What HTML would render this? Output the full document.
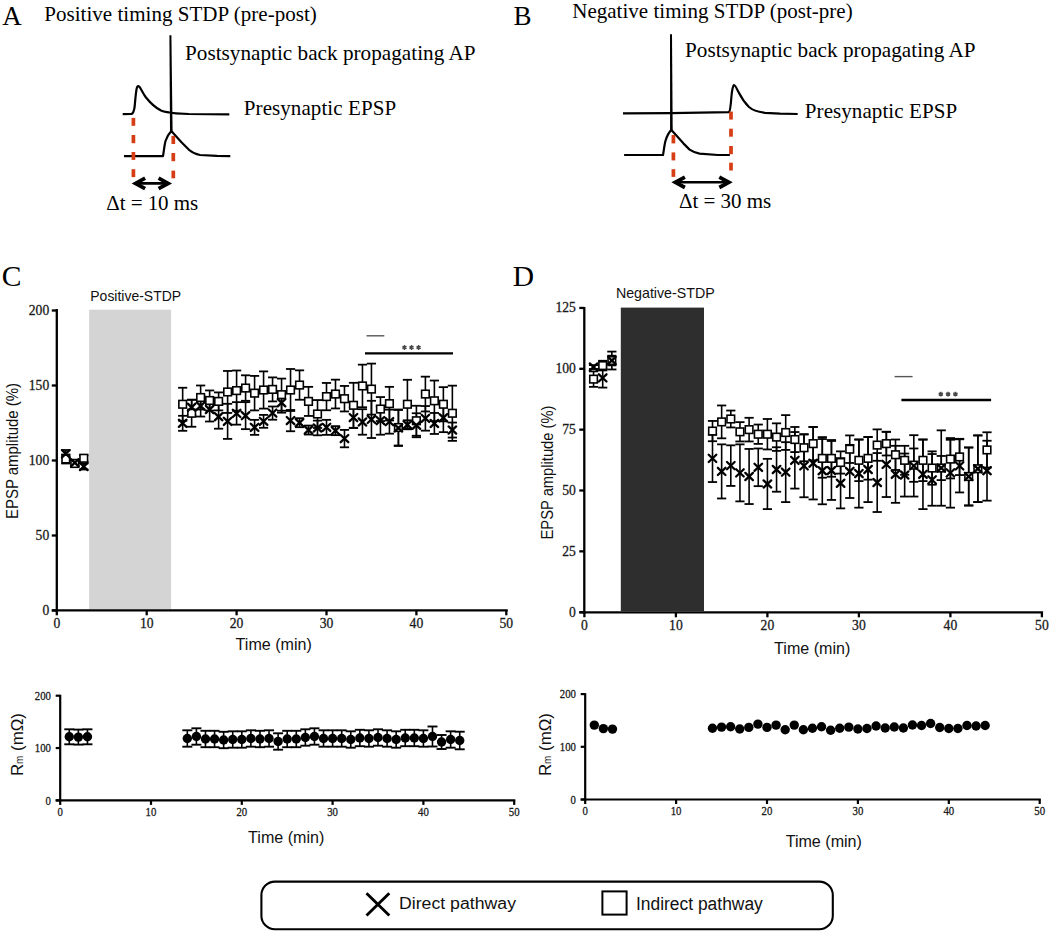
<!DOCTYPE html>
<html><head><meta charset="utf-8"><title>STDP figure</title>
<style>html,body{margin:0;padding:0;background:#fff;} svg{display:block;}</style>
</head><body>
<svg width="1050" height="933" viewBox="0 0 1050 933">
<rect width="1050" height="933" fill="#fff"/>
<text x="2.3" y="25.1" font-family="'Liberation Serif', serif" font-size="27" text-anchor="start" fill="#000" >A</text>
<text x="44.3" y="21.1" font-family="'Liberation Serif', serif" font-size="21" text-anchor="start" fill="#000" textLength="272.5">Positive timing STDP (pre-post)</text>
<text x="185.0" y="59.6" font-family="'Liberation Serif', serif" font-size="21.2" text-anchor="start" fill="#000" textLength="290.5">Postsynaptic back propagating AP</text>
<text x="243.8" y="115.3" font-family="'Liberation Serif', serif" font-size="21" text-anchor="start" fill="#000" textLength="152.3">Presynaptic EPSP</text>
<text x="106.2" y="210.3" font-family="'Liberation Serif', serif" font-size="21" text-anchor="start" fill="#000" textLength="92">&#916;t = 10 ms</text>
<path d="M122.7,114.1 L131.4,113.9 C133.2,113.6 133.9,112 134.6,107 C135.3,100 135.8,92 136.8,88 C137.4,86 138.2,85.8 139.2,86.6 C141,88.5 143,93.5 146,97.5 C150,102.5 155,107.5 161,110.6 C165,112.3 170,112.9 176,113.3 L188.6,114 L229.3,114.3" fill="none" stroke="#000" stroke-width="2.2" stroke-linejoin="round" stroke-linecap="butt"/>
<path d="M169.4,35.2 L171.4,35.2 L172.6,131 L170.0,131 Z" fill="#000"/>
<path d="M124,156.1 L163,156.1 C163.8,152 164.2,146 165.5,141 C166.8,137 169,133.5 171.3,131 L181.7,142.4 L189.2,150 C192,152.5 196,154.3 200,155 L217,155.9 L230.3,156.1" fill="none" stroke="#000" stroke-width="2.2" stroke-linejoin="round" stroke-linecap="butt"/>
<rect x="131.55" y="117.90" width="3.7" height="7.90" fill="#d63d14"/>
<rect x="131.55" y="135.00" width="3.7" height="8.20" fill="#d63d14"/>
<rect x="131.55" y="152.00" width="3.7" height="7.90" fill="#d63d14"/>
<rect x="131.55" y="169.20" width="3.7" height="7.90" fill="#d63d14"/>
<rect x="171.45" y="135.90" width="3.7" height="8.10" fill="#d63d14"/>
<rect x="171.45" y="153.00" width="3.7" height="8.20" fill="#d63d14"/>
<rect x="171.45" y="170.60" width="3.7" height="7.70" fill="#d63d14"/>
<line x1="134.6" y1="183.4" x2="169.1" y2="183.4" stroke="#000" stroke-width="2.6"/>
<path d="M145.1,178.2 L135.6,183.4 L145.1,188.6" fill="none" stroke="#000" stroke-width="3.8" stroke-linejoin="miter" stroke-miterlimit="10"/>
<path d="M158.6,178.2 L168.1,183.4 L158.6,188.6" fill="none" stroke="#000" stroke-width="3.8" stroke-linejoin="miter" stroke-miterlimit="10"/>
<text x="513.4" y="25.1" font-family="'Liberation Serif', serif" font-size="27" text-anchor="start" fill="#000" >B</text>
<text x="572.2" y="17.7" font-family="'Liberation Serif', serif" font-size="21" text-anchor="start" fill="#000" textLength="280.5">Negative timing STDP (post-pre)</text>
<text x="685.0" y="56.8" font-family="'Liberation Serif', serif" font-size="21.2" text-anchor="start" fill="#000" textLength="290.5">Postsynaptic back propagating AP</text>
<text x="804.8" y="118.4" font-family="'Liberation Serif', serif" font-size="21" text-anchor="start" fill="#000" textLength="152.3">Presynaptic EPSP</text>
<text x="679.0" y="207.7" font-family="'Liberation Serif', serif" font-size="21" text-anchor="start" fill="#000" textLength="92.2">&#916;t = 30 ms</text>
<path d="M623,113.3 L671,113.1 L729.1,112.1 C730.2,111 730.8,105 731.4,97 C732,90 732.6,86 734.1,85 C735.2,85 736.5,88 738.5,92 C741.5,98 745,103 749,107 C753,110.5 758,112 765,112.8 L780,113.7 L797.7,114" fill="none" stroke="#000" stroke-width="2.2" stroke-linejoin="round" stroke-linecap="butt"/>
<path d="M670.0,34.2 L672.0,34.2 L672.7,129.9 L670.1,129.9 Z" fill="#000"/>
<path d="M624.1,155 L663,155 C663.8,151 664.2,146 665.3,141.5 C666.5,137 668.8,132.5 671.4,129.9 L683.6,143.6 L689.6,149.6 C692.5,151.5 696,153 699.6,153.6 L717.9,155 L729.9,155" fill="none" stroke="#000" stroke-width="2.2" stroke-linejoin="round" stroke-linecap="butt"/>
<rect x="671.55" y="135.00" width="3.7" height="8.40" fill="#d63d14"/>
<rect x="671.55" y="152.40" width="3.7" height="8.00" fill="#d63d14"/>
<rect x="671.55" y="169.20" width="3.7" height="7.70" fill="#d63d14"/>
<rect x="729.15" y="111.60" width="3.7" height="8.00" fill="#d63d14"/>
<rect x="729.15" y="128.70" width="3.7" height="8.00" fill="#d63d14"/>
<rect x="729.15" y="146.00" width="3.7" height="8.20" fill="#d63d14"/>
<rect x="729.15" y="162.70" width="3.7" height="7.80" fill="#d63d14"/>
<line x1="674.4" y1="182.3" x2="729.8" y2="182.3" stroke="#000" stroke-width="2.6"/>
<path d="M684.9,177.1 L675.4,182.3 L684.9,187.5" fill="none" stroke="#000" stroke-width="3.8" stroke-linejoin="miter" stroke-miterlimit="10"/>
<path d="M719.3,177.1 L728.8,182.3 L719.3,187.5" fill="none" stroke="#000" stroke-width="3.8" stroke-linejoin="miter" stroke-miterlimit="10"/>
<text x="1.8" y="285.6" font-family="'Liberation Serif', serif" font-size="29.5" text-anchor="start" fill="#000" >C</text>
<rect x="89.1" y="309.7" width="82" height="299.5" fill="#d4d4d4"/>
<text x="90.3" y="300.9" font-family="'Liberation Sans', sans-serif" font-size="14.5" text-anchor="start" fill="#111" textLength="90.8" lengthAdjust="spacingAndGlyphs">Positive-STDP</text>
<line x1="56.80" y1="309.05" x2="56.80" y2="611.45" stroke="#000" stroke-width="2.3" stroke-linecap="butt"/>
<line x1="51.80" y1="610.30" x2="507.75" y2="610.30" stroke="#000" stroke-width="2.3" stroke-linecap="butt"/>
<line x1="51.80" y1="610.50" x2="56.80" y2="610.50" stroke="#000" stroke-width="2.3" stroke-linecap="butt"/>
<text x="49.2" y="614.9" font-family="'Liberation Serif', serif" font-size="13.6" text-anchor="end" fill="#1a1a1a" stroke="#1a1a1a" stroke-width="0.3">0</text>
<line x1="51.80" y1="535.50" x2="56.80" y2="535.50" stroke="#000" stroke-width="2.3" stroke-linecap="butt"/>
<text x="49.2" y="539.9" font-family="'Liberation Serif', serif" font-size="13.6" text-anchor="end" fill="#1a1a1a" stroke="#1a1a1a" stroke-width="0.3">50</text>
<line x1="51.80" y1="460.50" x2="56.80" y2="460.50" stroke="#000" stroke-width="2.3" stroke-linecap="butt"/>
<text x="49.2" y="464.9" font-family="'Liberation Serif', serif" font-size="13.6" text-anchor="end" fill="#1a1a1a" stroke="#1a1a1a" stroke-width="0.3">100</text>
<line x1="51.80" y1="385.50" x2="56.80" y2="385.50" stroke="#000" stroke-width="2.3" stroke-linecap="butt"/>
<text x="49.2" y="389.9" font-family="'Liberation Serif', serif" font-size="13.6" text-anchor="end" fill="#1a1a1a" stroke="#1a1a1a" stroke-width="0.3">150</text>
<line x1="51.80" y1="310.50" x2="56.80" y2="310.50" stroke="#000" stroke-width="2.3" stroke-linecap="butt"/>
<text x="49.2" y="314.9" font-family="'Liberation Serif', serif" font-size="13.6" text-anchor="end" fill="#1a1a1a" stroke="#1a1a1a" stroke-width="0.3">200</text>
<line x1="56.80" y1="610.30" x2="56.80" y2="615.30" stroke="#000" stroke-width="2.3" stroke-linecap="butt"/>
<text x="56.8" y="627.9" font-family="'Liberation Serif', serif" font-size="13.6" text-anchor="middle" fill="#1a1a1a" stroke="#1a1a1a" stroke-width="0.3">0</text>
<line x1="146.70" y1="610.30" x2="146.70" y2="615.30" stroke="#000" stroke-width="2.3" stroke-linecap="butt"/>
<text x="146.7" y="627.9" font-family="'Liberation Serif', serif" font-size="13.6" text-anchor="middle" fill="#1a1a1a" stroke="#1a1a1a" stroke-width="0.3">10</text>
<line x1="236.60" y1="610.30" x2="236.60" y2="615.30" stroke="#000" stroke-width="2.3" stroke-linecap="butt"/>
<text x="236.6" y="627.9" font-family="'Liberation Serif', serif" font-size="13.6" text-anchor="middle" fill="#1a1a1a" stroke="#1a1a1a" stroke-width="0.3">20</text>
<line x1="326.50" y1="610.30" x2="326.50" y2="615.30" stroke="#000" stroke-width="2.3" stroke-linecap="butt"/>
<text x="326.5" y="627.9" font-family="'Liberation Serif', serif" font-size="13.6" text-anchor="middle" fill="#1a1a1a" stroke="#1a1a1a" stroke-width="0.3">30</text>
<line x1="416.40" y1="610.30" x2="416.40" y2="615.30" stroke="#000" stroke-width="2.3" stroke-linecap="butt"/>
<text x="416.4" y="627.9" font-family="'Liberation Serif', serif" font-size="13.6" text-anchor="middle" fill="#1a1a1a" stroke="#1a1a1a" stroke-width="0.3">40</text>
<line x1="506.30" y1="610.30" x2="506.30" y2="615.30" stroke="#000" stroke-width="2.3" stroke-linecap="butt"/>
<text x="506.3" y="627.9" font-family="'Liberation Serif', serif" font-size="13.6" text-anchor="middle" fill="#1a1a1a" stroke="#1a1a1a" stroke-width="0.3">50</text>
<text transform="translate(18.3,451.0) rotate(-90)" x="0" y="0" font-family="'Liberation Sans', sans-serif" font-size="16" text-anchor="middle" fill="#111" textLength="136" lengthAdjust="spacingAndGlyphs">EPSP amplitude (%)</text>
<text x="235.6" y="650.0" font-family="'Liberation Sans', sans-serif" font-size="16" text-anchor="start" fill="#111" textLength="76.2" lengthAdjust="spacingAndGlyphs">Time (min)</text>
<line x1="65.79" y1="454.50" x2="65.79" y2="463.50" stroke="#000" stroke-width="1.6" stroke-linecap="butt"/>
<line x1="61.19" y1="454.50" x2="70.39" y2="454.50" stroke="#000" stroke-width="1.8" stroke-linecap="butt"/>
<line x1="61.19" y1="463.50" x2="70.39" y2="463.50" stroke="#000" stroke-width="1.8" stroke-linecap="butt"/>
<line x1="74.78" y1="460.50" x2="74.78" y2="466.50" stroke="#000" stroke-width="1.6" stroke-linecap="butt"/>
<line x1="70.18" y1="460.50" x2="79.38" y2="460.50" stroke="#000" stroke-width="1.8" stroke-linecap="butt"/>
<line x1="70.18" y1="466.50" x2="79.38" y2="466.50" stroke="#000" stroke-width="1.8" stroke-linecap="butt"/>
<line x1="83.77" y1="455.25" x2="83.77" y2="461.25" stroke="#000" stroke-width="1.6" stroke-linecap="butt"/>
<line x1="79.17" y1="455.25" x2="88.37" y2="455.25" stroke="#000" stroke-width="1.8" stroke-linecap="butt"/>
<line x1="79.17" y1="461.25" x2="88.37" y2="461.25" stroke="#000" stroke-width="1.8" stroke-linecap="butt"/>
<line x1="182.66" y1="387.75" x2="182.66" y2="420.75" stroke="#000" stroke-width="1.6" stroke-linecap="butt"/>
<line x1="178.06" y1="387.75" x2="187.26" y2="387.75" stroke="#000" stroke-width="1.8" stroke-linecap="butt"/>
<line x1="178.06" y1="420.75" x2="187.26" y2="420.75" stroke="#000" stroke-width="1.8" stroke-linecap="butt"/>
<line x1="191.65" y1="399.75" x2="191.65" y2="426.75" stroke="#000" stroke-width="1.6" stroke-linecap="butt"/>
<line x1="187.05" y1="399.75" x2="196.25" y2="399.75" stroke="#000" stroke-width="1.8" stroke-linecap="butt"/>
<line x1="187.05" y1="426.75" x2="196.25" y2="426.75" stroke="#000" stroke-width="1.8" stroke-linecap="butt"/>
<line x1="200.64" y1="385.50" x2="200.64" y2="409.50" stroke="#000" stroke-width="1.6" stroke-linecap="butt"/>
<line x1="196.04" y1="385.50" x2="205.24" y2="385.50" stroke="#000" stroke-width="1.8" stroke-linecap="butt"/>
<line x1="196.04" y1="409.50" x2="205.24" y2="409.50" stroke="#000" stroke-width="1.8" stroke-linecap="butt"/>
<line x1="209.63" y1="390.45" x2="209.63" y2="410.55" stroke="#000" stroke-width="1.6" stroke-linecap="butt"/>
<line x1="205.03" y1="390.45" x2="214.23" y2="390.45" stroke="#000" stroke-width="1.8" stroke-linecap="butt"/>
<line x1="205.03" y1="410.55" x2="214.23" y2="410.55" stroke="#000" stroke-width="1.8" stroke-linecap="butt"/>
<line x1="218.62" y1="392.40" x2="218.62" y2="410.40" stroke="#000" stroke-width="1.6" stroke-linecap="butt"/>
<line x1="214.02" y1="392.40" x2="223.22" y2="392.40" stroke="#000" stroke-width="1.8" stroke-linecap="butt"/>
<line x1="214.02" y1="410.40" x2="223.22" y2="410.40" stroke="#000" stroke-width="1.8" stroke-linecap="butt"/>
<line x1="227.61" y1="370.95" x2="227.61" y2="412.95" stroke="#000" stroke-width="1.6" stroke-linecap="butt"/>
<line x1="223.01" y1="370.95" x2="232.21" y2="370.95" stroke="#000" stroke-width="1.8" stroke-linecap="butt"/>
<line x1="223.01" y1="412.95" x2="232.21" y2="412.95" stroke="#000" stroke-width="1.8" stroke-linecap="butt"/>
<line x1="236.60" y1="370.50" x2="236.60" y2="410.70" stroke="#000" stroke-width="1.6" stroke-linecap="butt"/>
<line x1="232.00" y1="370.50" x2="241.20" y2="370.50" stroke="#000" stroke-width="1.8" stroke-linecap="butt"/>
<line x1="232.00" y1="410.70" x2="241.20" y2="410.70" stroke="#000" stroke-width="1.8" stroke-linecap="butt"/>
<line x1="245.59" y1="375.30" x2="245.59" y2="400.80" stroke="#000" stroke-width="1.6" stroke-linecap="butt"/>
<line x1="240.99" y1="375.30" x2="250.19" y2="375.30" stroke="#000" stroke-width="1.8" stroke-linecap="butt"/>
<line x1="240.99" y1="400.80" x2="250.19" y2="400.80" stroke="#000" stroke-width="1.8" stroke-linecap="butt"/>
<line x1="254.58" y1="375.90" x2="254.58" y2="410.40" stroke="#000" stroke-width="1.6" stroke-linecap="butt"/>
<line x1="249.98" y1="375.90" x2="259.18" y2="375.90" stroke="#000" stroke-width="1.8" stroke-linecap="butt"/>
<line x1="249.98" y1="410.40" x2="259.18" y2="410.40" stroke="#000" stroke-width="1.8" stroke-linecap="butt"/>
<line x1="263.57" y1="371.40" x2="263.57" y2="408.60" stroke="#000" stroke-width="1.6" stroke-linecap="butt"/>
<line x1="258.97" y1="371.40" x2="268.17" y2="371.40" stroke="#000" stroke-width="1.8" stroke-linecap="butt"/>
<line x1="258.97" y1="408.60" x2="268.17" y2="408.60" stroke="#000" stroke-width="1.8" stroke-linecap="butt"/>
<line x1="272.56" y1="377.40" x2="272.56" y2="401.40" stroke="#000" stroke-width="1.6" stroke-linecap="butt"/>
<line x1="267.96" y1="377.40" x2="277.16" y2="377.40" stroke="#000" stroke-width="1.8" stroke-linecap="butt"/>
<line x1="267.96" y1="401.40" x2="277.16" y2="401.40" stroke="#000" stroke-width="1.8" stroke-linecap="butt"/>
<line x1="281.55" y1="378.60" x2="281.55" y2="410.70" stroke="#000" stroke-width="1.6" stroke-linecap="butt"/>
<line x1="276.95" y1="378.60" x2="286.15" y2="378.60" stroke="#000" stroke-width="1.8" stroke-linecap="butt"/>
<line x1="276.95" y1="410.70" x2="286.15" y2="410.70" stroke="#000" stroke-width="1.8" stroke-linecap="butt"/>
<line x1="290.54" y1="369.00" x2="290.54" y2="411.00" stroke="#000" stroke-width="1.6" stroke-linecap="butt"/>
<line x1="285.94" y1="369.00" x2="295.14" y2="369.00" stroke="#000" stroke-width="1.8" stroke-linecap="butt"/>
<line x1="285.94" y1="411.00" x2="295.14" y2="411.00" stroke="#000" stroke-width="1.8" stroke-linecap="butt"/>
<line x1="299.53" y1="370.35" x2="299.53" y2="399.75" stroke="#000" stroke-width="1.6" stroke-linecap="butt"/>
<line x1="294.93" y1="370.35" x2="304.13" y2="370.35" stroke="#000" stroke-width="1.8" stroke-linecap="butt"/>
<line x1="294.93" y1="399.75" x2="304.13" y2="399.75" stroke="#000" stroke-width="1.8" stroke-linecap="butt"/>
<line x1="308.52" y1="386.85" x2="308.52" y2="415.95" stroke="#000" stroke-width="1.6" stroke-linecap="butt"/>
<line x1="303.92" y1="386.85" x2="313.12" y2="386.85" stroke="#000" stroke-width="1.8" stroke-linecap="butt"/>
<line x1="303.92" y1="415.95" x2="313.12" y2="415.95" stroke="#000" stroke-width="1.8" stroke-linecap="butt"/>
<line x1="317.51" y1="400.05" x2="317.51" y2="427.95" stroke="#000" stroke-width="1.6" stroke-linecap="butt"/>
<line x1="312.91" y1="400.05" x2="322.11" y2="400.05" stroke="#000" stroke-width="1.8" stroke-linecap="butt"/>
<line x1="312.91" y1="427.95" x2="322.11" y2="427.95" stroke="#000" stroke-width="1.8" stroke-linecap="butt"/>
<line x1="326.50" y1="382.95" x2="326.50" y2="410.25" stroke="#000" stroke-width="1.6" stroke-linecap="butt"/>
<line x1="321.90" y1="382.95" x2="331.10" y2="382.95" stroke="#000" stroke-width="1.8" stroke-linecap="butt"/>
<line x1="321.90" y1="410.25" x2="331.10" y2="410.25" stroke="#000" stroke-width="1.8" stroke-linecap="butt"/>
<line x1="335.49" y1="379.65" x2="335.49" y2="408.45" stroke="#000" stroke-width="1.6" stroke-linecap="butt"/>
<line x1="330.89" y1="379.65" x2="340.09" y2="379.65" stroke="#000" stroke-width="1.8" stroke-linecap="butt"/>
<line x1="330.89" y1="408.45" x2="340.09" y2="408.45" stroke="#000" stroke-width="1.8" stroke-linecap="butt"/>
<line x1="344.48" y1="385.95" x2="344.48" y2="411.45" stroke="#000" stroke-width="1.6" stroke-linecap="butt"/>
<line x1="339.88" y1="385.95" x2="349.08" y2="385.95" stroke="#000" stroke-width="1.8" stroke-linecap="butt"/>
<line x1="339.88" y1="411.45" x2="349.08" y2="411.45" stroke="#000" stroke-width="1.8" stroke-linecap="butt"/>
<line x1="353.47" y1="382.80" x2="353.47" y2="427.80" stroke="#000" stroke-width="1.6" stroke-linecap="butt"/>
<line x1="348.87" y1="382.80" x2="358.07" y2="382.80" stroke="#000" stroke-width="1.8" stroke-linecap="butt"/>
<line x1="348.87" y1="427.80" x2="358.07" y2="427.80" stroke="#000" stroke-width="1.8" stroke-linecap="butt"/>
<line x1="362.46" y1="364.65" x2="362.46" y2="407.25" stroke="#000" stroke-width="1.6" stroke-linecap="butt"/>
<line x1="357.86" y1="364.65" x2="367.06" y2="364.65" stroke="#000" stroke-width="1.8" stroke-linecap="butt"/>
<line x1="357.86" y1="407.25" x2="367.06" y2="407.25" stroke="#000" stroke-width="1.8" stroke-linecap="butt"/>
<line x1="371.45" y1="363.60" x2="371.45" y2="414.60" stroke="#000" stroke-width="1.6" stroke-linecap="butt"/>
<line x1="366.85" y1="363.60" x2="376.05" y2="363.60" stroke="#000" stroke-width="1.8" stroke-linecap="butt"/>
<line x1="366.85" y1="414.60" x2="376.05" y2="414.60" stroke="#000" stroke-width="1.8" stroke-linecap="butt"/>
<line x1="380.44" y1="397.05" x2="380.44" y2="421.05" stroke="#000" stroke-width="1.6" stroke-linecap="butt"/>
<line x1="375.84" y1="397.05" x2="385.04" y2="397.05" stroke="#000" stroke-width="1.8" stroke-linecap="butt"/>
<line x1="375.84" y1="421.05" x2="385.04" y2="421.05" stroke="#000" stroke-width="1.8" stroke-linecap="butt"/>
<line x1="389.43" y1="386.85" x2="389.43" y2="420.45" stroke="#000" stroke-width="1.6" stroke-linecap="butt"/>
<line x1="384.83" y1="386.85" x2="394.03" y2="386.85" stroke="#000" stroke-width="1.8" stroke-linecap="butt"/>
<line x1="384.83" y1="420.45" x2="394.03" y2="420.45" stroke="#000" stroke-width="1.8" stroke-linecap="butt"/>
<line x1="398.42" y1="409.50" x2="398.42" y2="445.50" stroke="#000" stroke-width="1.6" stroke-linecap="butt"/>
<line x1="393.82" y1="409.50" x2="403.02" y2="409.50" stroke="#000" stroke-width="1.8" stroke-linecap="butt"/>
<line x1="393.82" y1="445.50" x2="403.02" y2="445.50" stroke="#000" stroke-width="1.8" stroke-linecap="butt"/>
<line x1="407.41" y1="379.80" x2="407.41" y2="428.70" stroke="#000" stroke-width="1.6" stroke-linecap="butt"/>
<line x1="402.81" y1="379.80" x2="412.01" y2="379.80" stroke="#000" stroke-width="1.8" stroke-linecap="butt"/>
<line x1="402.81" y1="428.70" x2="412.01" y2="428.70" stroke="#000" stroke-width="1.8" stroke-linecap="butt"/>
<line x1="416.40" y1="405.75" x2="416.40" y2="435.75" stroke="#000" stroke-width="1.6" stroke-linecap="butt"/>
<line x1="411.80" y1="405.75" x2="421.00" y2="405.75" stroke="#000" stroke-width="1.8" stroke-linecap="butt"/>
<line x1="411.80" y1="435.75" x2="421.00" y2="435.75" stroke="#000" stroke-width="1.8" stroke-linecap="butt"/>
<line x1="425.39" y1="376.65" x2="425.39" y2="411.45" stroke="#000" stroke-width="1.6" stroke-linecap="butt"/>
<line x1="420.79" y1="376.65" x2="429.99" y2="376.65" stroke="#000" stroke-width="1.8" stroke-linecap="butt"/>
<line x1="420.79" y1="411.45" x2="429.99" y2="411.45" stroke="#000" stroke-width="1.8" stroke-linecap="butt"/>
<line x1="434.38" y1="380.55" x2="434.38" y2="421.05" stroke="#000" stroke-width="1.6" stroke-linecap="butt"/>
<line x1="429.78" y1="380.55" x2="438.98" y2="380.55" stroke="#000" stroke-width="1.8" stroke-linecap="butt"/>
<line x1="429.78" y1="421.05" x2="438.98" y2="421.05" stroke="#000" stroke-width="1.8" stroke-linecap="butt"/>
<line x1="443.37" y1="387.15" x2="443.37" y2="421.35" stroke="#000" stroke-width="1.6" stroke-linecap="butt"/>
<line x1="438.77" y1="387.15" x2="447.97" y2="387.15" stroke="#000" stroke-width="1.8" stroke-linecap="butt"/>
<line x1="438.77" y1="421.35" x2="447.97" y2="421.35" stroke="#000" stroke-width="1.8" stroke-linecap="butt"/>
<line x1="452.36" y1="385.65" x2="452.36" y2="440.85" stroke="#000" stroke-width="1.6" stroke-linecap="butt"/>
<line x1="447.76" y1="385.65" x2="456.96" y2="385.65" stroke="#000" stroke-width="1.8" stroke-linecap="butt"/>
<line x1="447.76" y1="440.85" x2="456.96" y2="440.85" stroke="#000" stroke-width="1.8" stroke-linecap="butt"/>
<line x1="65.79" y1="450.00" x2="65.79" y2="457.50" stroke="#000" stroke-width="1.6" stroke-linecap="butt"/>
<line x1="61.19" y1="450.00" x2="70.39" y2="450.00" stroke="#000" stroke-width="1.8" stroke-linecap="butt"/>
<line x1="61.19" y1="457.50" x2="70.39" y2="457.50" stroke="#000" stroke-width="1.8" stroke-linecap="butt"/>
<line x1="74.78" y1="459.75" x2="74.78" y2="465.75" stroke="#000" stroke-width="1.6" stroke-linecap="butt"/>
<line x1="70.18" y1="459.75" x2="79.38" y2="459.75" stroke="#000" stroke-width="1.8" stroke-linecap="butt"/>
<line x1="70.18" y1="465.75" x2="79.38" y2="465.75" stroke="#000" stroke-width="1.8" stroke-linecap="butt"/>
<line x1="83.77" y1="463.50" x2="83.77" y2="469.50" stroke="#000" stroke-width="1.6" stroke-linecap="butt"/>
<line x1="79.17" y1="463.50" x2="88.37" y2="463.50" stroke="#000" stroke-width="1.8" stroke-linecap="butt"/>
<line x1="79.17" y1="469.50" x2="88.37" y2="469.50" stroke="#000" stroke-width="1.8" stroke-linecap="butt"/>
<line x1="182.66" y1="415.80" x2="182.66" y2="430.80" stroke="#000" stroke-width="1.6" stroke-linecap="butt"/>
<line x1="178.06" y1="415.80" x2="187.26" y2="415.80" stroke="#000" stroke-width="1.8" stroke-linecap="butt"/>
<line x1="178.06" y1="430.80" x2="187.26" y2="430.80" stroke="#000" stroke-width="1.8" stroke-linecap="butt"/>
<line x1="191.65" y1="399.75" x2="191.65" y2="414.75" stroke="#000" stroke-width="1.6" stroke-linecap="butt"/>
<line x1="187.05" y1="399.75" x2="196.25" y2="399.75" stroke="#000" stroke-width="1.8" stroke-linecap="butt"/>
<line x1="187.05" y1="414.75" x2="196.25" y2="414.75" stroke="#000" stroke-width="1.8" stroke-linecap="butt"/>
<line x1="200.64" y1="395.55" x2="200.64" y2="416.55" stroke="#000" stroke-width="1.6" stroke-linecap="butt"/>
<line x1="196.04" y1="395.55" x2="205.24" y2="395.55" stroke="#000" stroke-width="1.8" stroke-linecap="butt"/>
<line x1="196.04" y1="416.55" x2="205.24" y2="416.55" stroke="#000" stroke-width="1.8" stroke-linecap="butt"/>
<line x1="209.63" y1="397.50" x2="209.63" y2="421.50" stroke="#000" stroke-width="1.6" stroke-linecap="butt"/>
<line x1="205.03" y1="397.50" x2="214.23" y2="397.50" stroke="#000" stroke-width="1.8" stroke-linecap="butt"/>
<line x1="205.03" y1="421.50" x2="214.23" y2="421.50" stroke="#000" stroke-width="1.8" stroke-linecap="butt"/>
<line x1="218.62" y1="404.70" x2="218.62" y2="428.70" stroke="#000" stroke-width="1.6" stroke-linecap="butt"/>
<line x1="214.02" y1="404.70" x2="223.22" y2="404.70" stroke="#000" stroke-width="1.8" stroke-linecap="butt"/>
<line x1="214.02" y1="428.70" x2="223.22" y2="428.70" stroke="#000" stroke-width="1.8" stroke-linecap="butt"/>
<line x1="227.61" y1="403.80" x2="227.61" y2="438.90" stroke="#000" stroke-width="1.6" stroke-linecap="butt"/>
<line x1="223.01" y1="403.80" x2="232.21" y2="403.80" stroke="#000" stroke-width="1.8" stroke-linecap="butt"/>
<line x1="223.01" y1="438.90" x2="232.21" y2="438.90" stroke="#000" stroke-width="1.8" stroke-linecap="butt"/>
<line x1="236.60" y1="402.15" x2="236.60" y2="424.65" stroke="#000" stroke-width="1.6" stroke-linecap="butt"/>
<line x1="232.00" y1="402.15" x2="241.20" y2="402.15" stroke="#000" stroke-width="1.8" stroke-linecap="butt"/>
<line x1="232.00" y1="424.65" x2="241.20" y2="424.65" stroke="#000" stroke-width="1.8" stroke-linecap="butt"/>
<line x1="245.59" y1="402.15" x2="245.59" y2="429.15" stroke="#000" stroke-width="1.6" stroke-linecap="butt"/>
<line x1="240.99" y1="402.15" x2="250.19" y2="402.15" stroke="#000" stroke-width="1.8" stroke-linecap="butt"/>
<line x1="240.99" y1="429.15" x2="250.19" y2="429.15" stroke="#000" stroke-width="1.8" stroke-linecap="butt"/>
<line x1="254.58" y1="419.85" x2="254.58" y2="434.85" stroke="#000" stroke-width="1.6" stroke-linecap="butt"/>
<line x1="249.98" y1="419.85" x2="259.18" y2="419.85" stroke="#000" stroke-width="1.8" stroke-linecap="butt"/>
<line x1="249.98" y1="434.85" x2="259.18" y2="434.85" stroke="#000" stroke-width="1.8" stroke-linecap="butt"/>
<line x1="263.57" y1="414.90" x2="263.57" y2="427.80" stroke="#000" stroke-width="1.6" stroke-linecap="butt"/>
<line x1="258.97" y1="414.90" x2="268.17" y2="414.90" stroke="#000" stroke-width="1.8" stroke-linecap="butt"/>
<line x1="258.97" y1="427.80" x2="268.17" y2="427.80" stroke="#000" stroke-width="1.8" stroke-linecap="butt"/>
<line x1="272.56" y1="406.50" x2="272.56" y2="419.70" stroke="#000" stroke-width="1.6" stroke-linecap="butt"/>
<line x1="267.96" y1="406.50" x2="277.16" y2="406.50" stroke="#000" stroke-width="1.8" stroke-linecap="butt"/>
<line x1="267.96" y1="419.70" x2="277.16" y2="419.70" stroke="#000" stroke-width="1.8" stroke-linecap="butt"/>
<line x1="281.55" y1="392.85" x2="281.55" y2="412.65" stroke="#000" stroke-width="1.6" stroke-linecap="butt"/>
<line x1="276.95" y1="392.85" x2="286.15" y2="392.85" stroke="#000" stroke-width="1.8" stroke-linecap="butt"/>
<line x1="276.95" y1="412.65" x2="286.15" y2="412.65" stroke="#000" stroke-width="1.8" stroke-linecap="butt"/>
<line x1="290.54" y1="409.95" x2="290.54" y2="431.25" stroke="#000" stroke-width="1.6" stroke-linecap="butt"/>
<line x1="285.94" y1="409.95" x2="295.14" y2="409.95" stroke="#000" stroke-width="1.8" stroke-linecap="butt"/>
<line x1="285.94" y1="431.25" x2="295.14" y2="431.25" stroke="#000" stroke-width="1.8" stroke-linecap="butt"/>
<line x1="299.53" y1="418.20" x2="299.53" y2="427.20" stroke="#000" stroke-width="1.6" stroke-linecap="butt"/>
<line x1="294.93" y1="418.20" x2="304.13" y2="418.20" stroke="#000" stroke-width="1.8" stroke-linecap="butt"/>
<line x1="294.93" y1="427.20" x2="304.13" y2="427.20" stroke="#000" stroke-width="1.8" stroke-linecap="butt"/>
<line x1="308.52" y1="425.55" x2="308.52" y2="434.55" stroke="#000" stroke-width="1.6" stroke-linecap="butt"/>
<line x1="303.92" y1="425.55" x2="313.12" y2="425.55" stroke="#000" stroke-width="1.8" stroke-linecap="butt"/>
<line x1="303.92" y1="434.55" x2="313.12" y2="434.55" stroke="#000" stroke-width="1.8" stroke-linecap="butt"/>
<line x1="317.51" y1="420.60" x2="317.51" y2="435.30" stroke="#000" stroke-width="1.6" stroke-linecap="butt"/>
<line x1="312.91" y1="420.60" x2="322.11" y2="420.60" stroke="#000" stroke-width="1.8" stroke-linecap="butt"/>
<line x1="312.91" y1="435.30" x2="322.11" y2="435.30" stroke="#000" stroke-width="1.8" stroke-linecap="butt"/>
<line x1="326.50" y1="419.85" x2="326.50" y2="434.85" stroke="#000" stroke-width="1.6" stroke-linecap="butt"/>
<line x1="321.90" y1="419.85" x2="331.10" y2="419.85" stroke="#000" stroke-width="1.8" stroke-linecap="butt"/>
<line x1="321.90" y1="434.85" x2="331.10" y2="434.85" stroke="#000" stroke-width="1.8" stroke-linecap="butt"/>
<line x1="335.49" y1="426.15" x2="335.49" y2="435.15" stroke="#000" stroke-width="1.6" stroke-linecap="butt"/>
<line x1="330.89" y1="426.15" x2="340.09" y2="426.15" stroke="#000" stroke-width="1.8" stroke-linecap="butt"/>
<line x1="330.89" y1="435.15" x2="340.09" y2="435.15" stroke="#000" stroke-width="1.8" stroke-linecap="butt"/>
<line x1="344.48" y1="429.90" x2="344.48" y2="447.30" stroke="#000" stroke-width="1.6" stroke-linecap="butt"/>
<line x1="339.88" y1="429.90" x2="349.08" y2="429.90" stroke="#000" stroke-width="1.8" stroke-linecap="butt"/>
<line x1="339.88" y1="447.30" x2="349.08" y2="447.30" stroke="#000" stroke-width="1.8" stroke-linecap="butt"/>
<line x1="353.47" y1="407.10" x2="353.47" y2="428.10" stroke="#000" stroke-width="1.6" stroke-linecap="butt"/>
<line x1="348.87" y1="407.10" x2="358.07" y2="407.10" stroke="#000" stroke-width="1.8" stroke-linecap="butt"/>
<line x1="348.87" y1="428.10" x2="358.07" y2="428.10" stroke="#000" stroke-width="1.8" stroke-linecap="butt"/>
<line x1="362.46" y1="409.20" x2="362.46" y2="434.70" stroke="#000" stroke-width="1.6" stroke-linecap="butt"/>
<line x1="357.86" y1="409.20" x2="367.06" y2="409.20" stroke="#000" stroke-width="1.8" stroke-linecap="butt"/>
<line x1="357.86" y1="434.70" x2="367.06" y2="434.70" stroke="#000" stroke-width="1.8" stroke-linecap="butt"/>
<line x1="371.45" y1="400.80" x2="371.45" y2="438.00" stroke="#000" stroke-width="1.6" stroke-linecap="butt"/>
<line x1="366.85" y1="400.80" x2="376.05" y2="400.80" stroke="#000" stroke-width="1.8" stroke-linecap="butt"/>
<line x1="366.85" y1="438.00" x2="376.05" y2="438.00" stroke="#000" stroke-width="1.8" stroke-linecap="butt"/>
<line x1="380.44" y1="406.50" x2="380.44" y2="434.70" stroke="#000" stroke-width="1.6" stroke-linecap="butt"/>
<line x1="375.84" y1="406.50" x2="385.04" y2="406.50" stroke="#000" stroke-width="1.8" stroke-linecap="butt"/>
<line x1="375.84" y1="434.70" x2="385.04" y2="434.70" stroke="#000" stroke-width="1.8" stroke-linecap="butt"/>
<line x1="389.43" y1="409.65" x2="389.43" y2="433.65" stroke="#000" stroke-width="1.6" stroke-linecap="butt"/>
<line x1="384.83" y1="409.65" x2="394.03" y2="409.65" stroke="#000" stroke-width="1.8" stroke-linecap="butt"/>
<line x1="384.83" y1="433.65" x2="394.03" y2="433.65" stroke="#000" stroke-width="1.8" stroke-linecap="butt"/>
<line x1="398.42" y1="409.95" x2="398.42" y2="445.95" stroke="#000" stroke-width="1.6" stroke-linecap="butt"/>
<line x1="393.82" y1="409.95" x2="403.02" y2="409.95" stroke="#000" stroke-width="1.8" stroke-linecap="butt"/>
<line x1="393.82" y1="445.95" x2="403.02" y2="445.95" stroke="#000" stroke-width="1.8" stroke-linecap="butt"/>
<line x1="407.41" y1="420.30" x2="407.41" y2="429.30" stroke="#000" stroke-width="1.6" stroke-linecap="butt"/>
<line x1="402.81" y1="420.30" x2="412.01" y2="420.30" stroke="#000" stroke-width="1.8" stroke-linecap="butt"/>
<line x1="402.81" y1="429.30" x2="412.01" y2="429.30" stroke="#000" stroke-width="1.8" stroke-linecap="butt"/>
<line x1="416.40" y1="413.25" x2="416.40" y2="437.25" stroke="#000" stroke-width="1.6" stroke-linecap="butt"/>
<line x1="411.80" y1="413.25" x2="421.00" y2="413.25" stroke="#000" stroke-width="1.8" stroke-linecap="butt"/>
<line x1="411.80" y1="437.25" x2="421.00" y2="437.25" stroke="#000" stroke-width="1.8" stroke-linecap="butt"/>
<line x1="425.39" y1="406.05" x2="425.39" y2="430.65" stroke="#000" stroke-width="1.6" stroke-linecap="butt"/>
<line x1="420.79" y1="406.05" x2="429.99" y2="406.05" stroke="#000" stroke-width="1.8" stroke-linecap="butt"/>
<line x1="420.79" y1="430.65" x2="429.99" y2="430.65" stroke="#000" stroke-width="1.8" stroke-linecap="butt"/>
<line x1="434.38" y1="412.95" x2="434.38" y2="433.95" stroke="#000" stroke-width="1.6" stroke-linecap="butt"/>
<line x1="429.78" y1="412.95" x2="438.98" y2="412.95" stroke="#000" stroke-width="1.8" stroke-linecap="butt"/>
<line x1="429.78" y1="433.95" x2="438.98" y2="433.95" stroke="#000" stroke-width="1.8" stroke-linecap="butt"/>
<line x1="443.37" y1="403.35" x2="443.37" y2="432.15" stroke="#000" stroke-width="1.6" stroke-linecap="butt"/>
<line x1="438.77" y1="403.35" x2="447.97" y2="403.35" stroke="#000" stroke-width="1.8" stroke-linecap="butt"/>
<line x1="438.77" y1="432.15" x2="447.97" y2="432.15" stroke="#000" stroke-width="1.8" stroke-linecap="butt"/>
<line x1="452.36" y1="422.55" x2="452.36" y2="437.55" stroke="#000" stroke-width="1.6" stroke-linecap="butt"/>
<line x1="447.76" y1="422.55" x2="456.96" y2="422.55" stroke="#000" stroke-width="1.8" stroke-linecap="butt"/>
<line x1="447.76" y1="437.55" x2="456.96" y2="437.55" stroke="#000" stroke-width="1.8" stroke-linecap="butt"/>
<rect x="61.99" y="455.20" width="7.60" height="7.60" fill="#fff" stroke="#000" stroke-width="1.6"/>
<rect x="70.98" y="459.70" width="7.60" height="7.60" fill="#fff" stroke="#000" stroke-width="1.6"/>
<rect x="79.97" y="454.45" width="7.60" height="7.60" fill="#fff" stroke="#000" stroke-width="1.6"/>
<rect x="178.86" y="400.45" width="7.60" height="7.60" fill="#fff" stroke="#000" stroke-width="1.6"/>
<rect x="187.85" y="409.45" width="7.60" height="7.60" fill="#fff" stroke="#000" stroke-width="1.6"/>
<rect x="196.84" y="393.70" width="7.60" height="7.60" fill="#fff" stroke="#000" stroke-width="1.6"/>
<rect x="205.83" y="396.70" width="7.60" height="7.60" fill="#fff" stroke="#000" stroke-width="1.6"/>
<rect x="214.82" y="397.60" width="7.60" height="7.60" fill="#fff" stroke="#000" stroke-width="1.6"/>
<rect x="223.81" y="388.15" width="7.60" height="7.60" fill="#fff" stroke="#000" stroke-width="1.6"/>
<rect x="232.80" y="386.80" width="7.60" height="7.60" fill="#fff" stroke="#000" stroke-width="1.6"/>
<rect x="241.79" y="384.25" width="7.60" height="7.60" fill="#fff" stroke="#000" stroke-width="1.6"/>
<rect x="250.78" y="389.35" width="7.60" height="7.60" fill="#fff" stroke="#000" stroke-width="1.6"/>
<rect x="259.77" y="386.20" width="7.60" height="7.60" fill="#fff" stroke="#000" stroke-width="1.6"/>
<rect x="268.76" y="385.60" width="7.60" height="7.60" fill="#fff" stroke="#000" stroke-width="1.6"/>
<rect x="277.75" y="390.85" width="7.60" height="7.60" fill="#fff" stroke="#000" stroke-width="1.6"/>
<rect x="286.74" y="386.20" width="7.60" height="7.60" fill="#fff" stroke="#000" stroke-width="1.6"/>
<rect x="295.73" y="381.25" width="7.60" height="7.60" fill="#fff" stroke="#000" stroke-width="1.6"/>
<rect x="304.72" y="397.60" width="7.60" height="7.60" fill="#fff" stroke="#000" stroke-width="1.6"/>
<rect x="313.71" y="410.20" width="7.60" height="7.60" fill="#fff" stroke="#000" stroke-width="1.6"/>
<rect x="322.70" y="392.80" width="7.60" height="7.60" fill="#fff" stroke="#000" stroke-width="1.6"/>
<rect x="331.69" y="390.25" width="7.60" height="7.60" fill="#fff" stroke="#000" stroke-width="1.6"/>
<rect x="340.68" y="394.90" width="7.60" height="7.60" fill="#fff" stroke="#000" stroke-width="1.6"/>
<rect x="349.67" y="401.50" width="7.60" height="7.60" fill="#fff" stroke="#000" stroke-width="1.6"/>
<rect x="358.66" y="382.15" width="7.60" height="7.60" fill="#fff" stroke="#000" stroke-width="1.6"/>
<rect x="367.65" y="385.30" width="7.60" height="7.60" fill="#fff" stroke="#000" stroke-width="1.6"/>
<rect x="376.64" y="405.25" width="7.60" height="7.60" fill="#fff" stroke="#000" stroke-width="1.6"/>
<rect x="385.63" y="399.85" width="7.60" height="7.60" fill="#fff" stroke="#000" stroke-width="1.6"/>
<rect x="394.62" y="423.70" width="7.60" height="7.60" fill="#fff" stroke="#000" stroke-width="1.6"/>
<rect x="403.61" y="400.45" width="7.60" height="7.60" fill="#fff" stroke="#000" stroke-width="1.6"/>
<rect x="412.60" y="416.95" width="7.60" height="7.60" fill="#fff" stroke="#000" stroke-width="1.6"/>
<rect x="421.59" y="390.25" width="7.60" height="7.60" fill="#fff" stroke="#000" stroke-width="1.6"/>
<rect x="430.58" y="397.00" width="7.60" height="7.60" fill="#fff" stroke="#000" stroke-width="1.6"/>
<rect x="439.57" y="400.45" width="7.60" height="7.60" fill="#fff" stroke="#000" stroke-width="1.6"/>
<rect x="448.56" y="409.45" width="7.60" height="7.60" fill="#fff" stroke="#000" stroke-width="1.6"/>
<path d="M61.99,450.15 L69.59,457.35 M69.59,450.15 L61.99,457.35" stroke="#000" stroke-width="2.3" stroke-linecap="round" fill="none"/>
<path d="M70.98,459.15 L78.58,466.35 M78.58,459.15 L70.98,466.35" stroke="#000" stroke-width="2.3" stroke-linecap="round" fill="none"/>
<path d="M79.97,462.90 L87.57,470.10 M87.57,462.90 L79.97,470.10" stroke="#000" stroke-width="2.3" stroke-linecap="round" fill="none"/>
<path d="M178.86,419.70 L186.46,426.90 M186.46,419.70 L178.86,426.90" stroke="#000" stroke-width="2.3" stroke-linecap="round" fill="none"/>
<path d="M187.85,403.65 L195.45,410.85 M195.45,403.65 L187.85,410.85" stroke="#000" stroke-width="2.3" stroke-linecap="round" fill="none"/>
<path d="M196.84,402.45 L204.44,409.65 M204.44,402.45 L196.84,409.65" stroke="#000" stroke-width="2.3" stroke-linecap="round" fill="none"/>
<path d="M205.83,405.90 L213.43,413.10 M213.43,405.90 L205.83,413.10" stroke="#000" stroke-width="2.3" stroke-linecap="round" fill="none"/>
<path d="M214.82,413.10 L222.42,420.30 M222.42,413.10 L214.82,420.30" stroke="#000" stroke-width="2.3" stroke-linecap="round" fill="none"/>
<path d="M223.81,417.75 L231.41,424.95 M231.41,417.75 L223.81,424.95" stroke="#000" stroke-width="2.3" stroke-linecap="round" fill="none"/>
<path d="M232.80,409.80 L240.40,417.00 M240.40,409.80 L232.80,417.00" stroke="#000" stroke-width="2.3" stroke-linecap="round" fill="none"/>
<path d="M241.79,412.05 L249.39,419.25 M249.39,412.05 L241.79,419.25" stroke="#000" stroke-width="2.3" stroke-linecap="round" fill="none"/>
<path d="M250.78,423.75 L258.38,430.95 M258.38,423.75 L250.78,430.95" stroke="#000" stroke-width="2.3" stroke-linecap="round" fill="none"/>
<path d="M259.77,417.75 L267.37,424.95 M267.37,417.75 L259.77,424.95" stroke="#000" stroke-width="2.3" stroke-linecap="round" fill="none"/>
<path d="M268.76,409.50 L276.36,416.70 M276.36,409.50 L268.76,416.70" stroke="#000" stroke-width="2.3" stroke-linecap="round" fill="none"/>
<path d="M277.75,399.15 L285.35,406.35 M285.35,399.15 L277.75,406.35" stroke="#000" stroke-width="2.3" stroke-linecap="round" fill="none"/>
<path d="M286.74,417.00 L294.34,424.20 M294.34,417.00 L286.74,424.20" stroke="#000" stroke-width="2.3" stroke-linecap="round" fill="none"/>
<path d="M295.73,419.10 L303.33,426.30 M303.33,419.10 L295.73,426.30" stroke="#000" stroke-width="2.3" stroke-linecap="round" fill="none"/>
<path d="M304.72,426.45 L312.32,433.65 M312.32,426.45 L304.72,433.65" stroke="#000" stroke-width="2.3" stroke-linecap="round" fill="none"/>
<path d="M313.71,424.35 L321.31,431.55 M321.31,424.35 L313.71,431.55" stroke="#000" stroke-width="2.3" stroke-linecap="round" fill="none"/>
<path d="M322.70,423.75 L330.30,430.95 M330.30,423.75 L322.70,430.95" stroke="#000" stroke-width="2.3" stroke-linecap="round" fill="none"/>
<path d="M331.69,427.05 L339.29,434.25 M339.29,427.05 L331.69,434.25" stroke="#000" stroke-width="2.3" stroke-linecap="round" fill="none"/>
<path d="M340.68,435.00 L348.28,442.20 M348.28,435.00 L340.68,442.20" stroke="#000" stroke-width="2.3" stroke-linecap="round" fill="none"/>
<path d="M349.67,414.00 L357.27,421.20 M357.27,414.00 L349.67,421.20" stroke="#000" stroke-width="2.3" stroke-linecap="round" fill="none"/>
<path d="M358.66,418.35 L366.26,425.55 M366.26,418.35 L358.66,425.55" stroke="#000" stroke-width="2.3" stroke-linecap="round" fill="none"/>
<path d="M367.65,415.80 L375.25,423.00 M375.25,415.80 L367.65,423.00" stroke="#000" stroke-width="2.3" stroke-linecap="round" fill="none"/>
<path d="M376.64,417.00 L384.24,424.20 M384.24,417.00 L376.64,424.20" stroke="#000" stroke-width="2.3" stroke-linecap="round" fill="none"/>
<path d="M385.63,418.05 L393.23,425.25 M393.23,418.05 L385.63,425.25" stroke="#000" stroke-width="2.3" stroke-linecap="round" fill="none"/>
<path d="M394.62,424.35 L402.22,431.55 M402.22,424.35 L394.62,431.55" stroke="#000" stroke-width="2.3" stroke-linecap="round" fill="none"/>
<path d="M403.61,421.20 L411.21,428.40 M411.21,421.20 L403.61,428.40" stroke="#000" stroke-width="2.3" stroke-linecap="round" fill="none"/>
<path d="M412.60,421.65 L420.20,428.85 M420.20,421.65 L412.60,428.85" stroke="#000" stroke-width="2.3" stroke-linecap="round" fill="none"/>
<path d="M421.59,414.75 L429.19,421.95 M429.19,414.75 L421.59,421.95" stroke="#000" stroke-width="2.3" stroke-linecap="round" fill="none"/>
<path d="M430.58,419.85 L438.18,427.05 M438.18,419.85 L430.58,427.05" stroke="#000" stroke-width="2.3" stroke-linecap="round" fill="none"/>
<path d="M439.57,414.15 L447.17,421.35 M447.17,414.15 L439.57,421.35" stroke="#000" stroke-width="2.3" stroke-linecap="round" fill="none"/>
<path d="M448.56,426.45 L456.16,433.65 M456.16,426.45 L448.56,433.65" stroke="#000" stroke-width="2.3" stroke-linecap="round" fill="none"/>
<line x1="366.50" y1="335.80" x2="384.30" y2="335.80" stroke="#555" stroke-width="1.4" stroke-linecap="butt"/>
<line x1="365.00" y1="353.30" x2="453.00" y2="353.30" stroke="#000" stroke-width="2.3" stroke-linecap="butt"/>
<path d="M404.50,345.10 L404.50,349.90 M406.58,346.30 L402.42,348.70 M406.58,348.70 L402.42,346.30 " stroke="#4a4a4a" stroke-width="1.5" fill="none"/>
<path d="M411.55,345.10 L411.55,349.90 M413.63,346.30 L409.47,348.70 M413.63,348.70 L409.47,346.30 " stroke="#4a4a4a" stroke-width="1.5" fill="none"/>
<path d="M418.60,345.10 L418.60,349.90 M420.68,346.30 L416.52,348.70 M420.68,348.70 L416.52,346.30 " stroke="#4a4a4a" stroke-width="1.5" fill="none"/>
<text x="512.8" y="285.6" font-family="'Liberation Serif', serif" font-size="29.5" text-anchor="start" fill="#000" >D</text>
<rect x="620.8" y="307.6" width="83.2" height="303.5" fill="#2e2e2e"/>
<text x="615.9" y="298.3" font-family="'Liberation Sans', sans-serif" font-size="14.5" text-anchor="start" fill="#111" textLength="98.8" lengthAdjust="spacingAndGlyphs">Negative-STDP</text>
<line x1="584.30" y1="307.05" x2="584.30" y2="613.45" stroke="#000" stroke-width="2.3" stroke-linecap="butt"/>
<line x1="579.30" y1="612.30" x2="1043.05" y2="612.30" stroke="#000" stroke-width="2.3" stroke-linecap="butt"/>
<line x1="579.30" y1="612.20" x2="584.30" y2="612.20" stroke="#000" stroke-width="2.3" stroke-linecap="butt"/>
<text x="575.9" y="616.6" font-family="'Liberation Serif', serif" font-size="13.6" text-anchor="end" fill="#1a1a1a" stroke="#1a1a1a" stroke-width="0.3">0</text>
<line x1="579.30" y1="551.35" x2="584.30" y2="551.35" stroke="#000" stroke-width="2.3" stroke-linecap="butt"/>
<text x="575.9" y="555.8" font-family="'Liberation Serif', serif" font-size="13.6" text-anchor="end" fill="#1a1a1a" stroke="#1a1a1a" stroke-width="0.3">25</text>
<line x1="579.30" y1="490.50" x2="584.30" y2="490.50" stroke="#000" stroke-width="2.3" stroke-linecap="butt"/>
<text x="575.9" y="494.9" font-family="'Liberation Serif', serif" font-size="13.6" text-anchor="end" fill="#1a1a1a" stroke="#1a1a1a" stroke-width="0.3">50</text>
<line x1="579.30" y1="429.65" x2="584.30" y2="429.65" stroke="#000" stroke-width="2.3" stroke-linecap="butt"/>
<text x="575.9" y="434.1" font-family="'Liberation Serif', serif" font-size="13.6" text-anchor="end" fill="#1a1a1a" stroke="#1a1a1a" stroke-width="0.3">75</text>
<line x1="579.30" y1="368.80" x2="584.30" y2="368.80" stroke="#000" stroke-width="2.3" stroke-linecap="butt"/>
<text x="575.9" y="373.2" font-family="'Liberation Serif', serif" font-size="13.6" text-anchor="end" fill="#1a1a1a" stroke="#1a1a1a" stroke-width="0.3">100</text>
<line x1="579.30" y1="307.95" x2="584.30" y2="307.95" stroke="#000" stroke-width="2.3" stroke-linecap="butt"/>
<text x="575.9" y="312.4" font-family="'Liberation Serif', serif" font-size="13.6" text-anchor="end" fill="#1a1a1a" stroke="#1a1a1a" stroke-width="0.3">125</text>
<line x1="584.40" y1="612.30" x2="584.40" y2="617.30" stroke="#000" stroke-width="2.3" stroke-linecap="butt"/>
<text x="584.4" y="629.7" font-family="'Liberation Serif', serif" font-size="13.6" text-anchor="middle" fill="#1a1a1a" stroke="#1a1a1a" stroke-width="0.3">0</text>
<line x1="675.90" y1="612.30" x2="675.90" y2="617.30" stroke="#000" stroke-width="2.3" stroke-linecap="butt"/>
<text x="675.9" y="629.7" font-family="'Liberation Serif', serif" font-size="13.6" text-anchor="middle" fill="#1a1a1a" stroke="#1a1a1a" stroke-width="0.3">10</text>
<line x1="767.40" y1="612.30" x2="767.40" y2="617.30" stroke="#000" stroke-width="2.3" stroke-linecap="butt"/>
<text x="767.4" y="629.7" font-family="'Liberation Serif', serif" font-size="13.6" text-anchor="middle" fill="#1a1a1a" stroke="#1a1a1a" stroke-width="0.3">20</text>
<line x1="858.90" y1="612.30" x2="858.90" y2="617.30" stroke="#000" stroke-width="2.3" stroke-linecap="butt"/>
<text x="858.9" y="629.7" font-family="'Liberation Serif', serif" font-size="13.6" text-anchor="middle" fill="#1a1a1a" stroke="#1a1a1a" stroke-width="0.3">30</text>
<line x1="950.40" y1="612.30" x2="950.40" y2="617.30" stroke="#000" stroke-width="2.3" stroke-linecap="butt"/>
<text x="950.4" y="629.7" font-family="'Liberation Serif', serif" font-size="13.6" text-anchor="middle" fill="#1a1a1a" stroke="#1a1a1a" stroke-width="0.3">40</text>
<line x1="1041.90" y1="612.30" x2="1041.90" y2="617.30" stroke="#000" stroke-width="2.3" stroke-linecap="butt"/>
<text x="1041.9" y="629.7" font-family="'Liberation Serif', serif" font-size="13.6" text-anchor="middle" fill="#1a1a1a" stroke="#1a1a1a" stroke-width="0.3">50</text>
<text transform="translate(553.0,472.5) rotate(-90)" x="0" y="0" font-family="'Liberation Sans', sans-serif" font-size="16" text-anchor="middle" fill="#111" textLength="134" lengthAdjust="spacingAndGlyphs">EPSP amplitude (%)</text>
<text x="774.1" y="653.6" font-family="'Liberation Sans', sans-serif" font-size="16" text-anchor="start" fill="#111" textLength="76.2" lengthAdjust="spacingAndGlyphs">Time (min)</text>
<line x1="593.55" y1="371.40" x2="593.55" y2="386.86" stroke="#000" stroke-width="1.6" stroke-linecap="butt"/>
<line x1="588.95" y1="371.40" x2="598.15" y2="371.40" stroke="#000" stroke-width="1.8" stroke-linecap="butt"/>
<line x1="588.95" y1="386.86" x2="598.15" y2="386.86" stroke="#000" stroke-width="1.8" stroke-linecap="butt"/>
<line x1="602.70" y1="360.77" x2="602.70" y2="370.43" stroke="#000" stroke-width="1.6" stroke-linecap="butt"/>
<line x1="598.10" y1="360.77" x2="607.30" y2="360.77" stroke="#000" stroke-width="1.8" stroke-linecap="butt"/>
<line x1="598.10" y1="370.43" x2="607.30" y2="370.43" stroke="#000" stroke-width="1.8" stroke-linecap="butt"/>
<line x1="611.85" y1="351.59" x2="611.85" y2="369.47" stroke="#000" stroke-width="1.6" stroke-linecap="butt"/>
<line x1="607.25" y1="351.59" x2="616.45" y2="351.59" stroke="#000" stroke-width="1.8" stroke-linecap="butt"/>
<line x1="607.25" y1="369.47" x2="616.45" y2="369.47" stroke="#000" stroke-width="1.8" stroke-linecap="butt"/>
<line x1="712.50" y1="420.93" x2="712.50" y2="441.22" stroke="#000" stroke-width="1.6" stroke-linecap="butt"/>
<line x1="707.90" y1="420.93" x2="717.10" y2="420.93" stroke="#000" stroke-width="1.8" stroke-linecap="butt"/>
<line x1="707.90" y1="441.22" x2="717.10" y2="441.22" stroke="#000" stroke-width="1.8" stroke-linecap="butt"/>
<line x1="721.65" y1="405.46" x2="721.65" y2="438.32" stroke="#000" stroke-width="1.6" stroke-linecap="butt"/>
<line x1="717.05" y1="405.46" x2="726.25" y2="405.46" stroke="#000" stroke-width="1.8" stroke-linecap="butt"/>
<line x1="717.05" y1="438.32" x2="726.25" y2="438.32" stroke="#000" stroke-width="1.8" stroke-linecap="butt"/>
<line x1="730.80" y1="410.54" x2="730.80" y2="427.45" stroke="#000" stroke-width="1.6" stroke-linecap="butt"/>
<line x1="726.20" y1="410.54" x2="735.40" y2="410.54" stroke="#000" stroke-width="1.8" stroke-linecap="butt"/>
<line x1="726.20" y1="427.45" x2="735.40" y2="427.45" stroke="#000" stroke-width="1.8" stroke-linecap="butt"/>
<line x1="739.95" y1="422.14" x2="739.95" y2="441.46" stroke="#000" stroke-width="1.6" stroke-linecap="butt"/>
<line x1="735.35" y1="422.14" x2="744.55" y2="422.14" stroke="#000" stroke-width="1.8" stroke-linecap="butt"/>
<line x1="735.35" y1="441.46" x2="744.55" y2="441.46" stroke="#000" stroke-width="1.8" stroke-linecap="butt"/>
<line x1="749.10" y1="417.79" x2="749.10" y2="441.46" stroke="#000" stroke-width="1.6" stroke-linecap="butt"/>
<line x1="744.50" y1="417.79" x2="753.70" y2="417.79" stroke="#000" stroke-width="1.8" stroke-linecap="butt"/>
<line x1="744.50" y1="441.46" x2="753.70" y2="441.46" stroke="#000" stroke-width="1.8" stroke-linecap="butt"/>
<line x1="758.25" y1="424.55" x2="758.25" y2="443.88" stroke="#000" stroke-width="1.6" stroke-linecap="butt"/>
<line x1="753.65" y1="424.55" x2="762.85" y2="424.55" stroke="#000" stroke-width="1.8" stroke-linecap="butt"/>
<line x1="753.65" y1="443.88" x2="762.85" y2="443.88" stroke="#000" stroke-width="1.8" stroke-linecap="butt"/>
<line x1="767.40" y1="418.99" x2="767.40" y2="449.44" stroke="#000" stroke-width="1.6" stroke-linecap="butt"/>
<line x1="762.80" y1="418.99" x2="772.00" y2="418.99" stroke="#000" stroke-width="1.8" stroke-linecap="butt"/>
<line x1="762.80" y1="449.44" x2="772.00" y2="449.44" stroke="#000" stroke-width="1.8" stroke-linecap="butt"/>
<line x1="776.55" y1="423.34" x2="776.55" y2="450.89" stroke="#000" stroke-width="1.6" stroke-linecap="butt"/>
<line x1="771.95" y1="423.34" x2="781.15" y2="423.34" stroke="#000" stroke-width="1.8" stroke-linecap="butt"/>
<line x1="771.95" y1="450.89" x2="781.15" y2="450.89" stroke="#000" stroke-width="1.8" stroke-linecap="butt"/>
<line x1="785.70" y1="415.13" x2="785.70" y2="449.92" stroke="#000" stroke-width="1.6" stroke-linecap="butt"/>
<line x1="781.10" y1="415.13" x2="790.30" y2="415.13" stroke="#000" stroke-width="1.8" stroke-linecap="butt"/>
<line x1="781.10" y1="449.92" x2="790.30" y2="449.92" stroke="#000" stroke-width="1.8" stroke-linecap="butt"/>
<line x1="794.85" y1="426.97" x2="794.85" y2="452.09" stroke="#000" stroke-width="1.6" stroke-linecap="butt"/>
<line x1="790.25" y1="426.97" x2="799.45" y2="426.97" stroke="#000" stroke-width="1.8" stroke-linecap="butt"/>
<line x1="790.25" y1="452.09" x2="799.45" y2="452.09" stroke="#000" stroke-width="1.8" stroke-linecap="butt"/>
<line x1="804.00" y1="434.22" x2="804.00" y2="461.27" stroke="#000" stroke-width="1.6" stroke-linecap="butt"/>
<line x1="799.40" y1="434.22" x2="808.60" y2="434.22" stroke="#000" stroke-width="1.8" stroke-linecap="butt"/>
<line x1="799.40" y1="461.27" x2="808.60" y2="461.27" stroke="#000" stroke-width="1.8" stroke-linecap="butt"/>
<line x1="813.15" y1="426.97" x2="813.15" y2="460.31" stroke="#000" stroke-width="1.6" stroke-linecap="butt"/>
<line x1="808.55" y1="426.97" x2="817.75" y2="426.97" stroke="#000" stroke-width="1.8" stroke-linecap="butt"/>
<line x1="808.55" y1="460.31" x2="817.75" y2="460.31" stroke="#000" stroke-width="1.8" stroke-linecap="butt"/>
<line x1="822.30" y1="439.05" x2="822.30" y2="477.70" stroke="#000" stroke-width="1.6" stroke-linecap="butt"/>
<line x1="817.70" y1="439.05" x2="826.90" y2="439.05" stroke="#000" stroke-width="1.8" stroke-linecap="butt"/>
<line x1="817.70" y1="477.70" x2="826.90" y2="477.70" stroke="#000" stroke-width="1.8" stroke-linecap="butt"/>
<line x1="831.45" y1="440.01" x2="831.45" y2="476.74" stroke="#000" stroke-width="1.6" stroke-linecap="butt"/>
<line x1="826.85" y1="440.01" x2="836.05" y2="440.01" stroke="#000" stroke-width="1.8" stroke-linecap="butt"/>
<line x1="826.85" y1="476.74" x2="836.05" y2="476.74" stroke="#000" stroke-width="1.8" stroke-linecap="butt"/>
<line x1="840.60" y1="451.37" x2="840.60" y2="473.60" stroke="#000" stroke-width="1.6" stroke-linecap="butt"/>
<line x1="836.00" y1="451.37" x2="845.20" y2="451.37" stroke="#000" stroke-width="1.8" stroke-linecap="butt"/>
<line x1="836.00" y1="473.60" x2="845.20" y2="473.60" stroke="#000" stroke-width="1.8" stroke-linecap="butt"/>
<line x1="849.75" y1="435.42" x2="849.75" y2="462.97" stroke="#000" stroke-width="1.6" stroke-linecap="butt"/>
<line x1="845.15" y1="435.42" x2="854.35" y2="435.42" stroke="#000" stroke-width="1.8" stroke-linecap="butt"/>
<line x1="845.15" y1="462.97" x2="854.35" y2="462.97" stroke="#000" stroke-width="1.8" stroke-linecap="butt"/>
<line x1="858.90" y1="439.53" x2="858.90" y2="481.09" stroke="#000" stroke-width="1.6" stroke-linecap="butt"/>
<line x1="854.30" y1="439.53" x2="863.50" y2="439.53" stroke="#000" stroke-width="1.8" stroke-linecap="butt"/>
<line x1="854.30" y1="481.09" x2="863.50" y2="481.09" stroke="#000" stroke-width="1.8" stroke-linecap="butt"/>
<line x1="868.05" y1="437.11" x2="868.05" y2="479.64" stroke="#000" stroke-width="1.6" stroke-linecap="butt"/>
<line x1="863.45" y1="437.11" x2="872.65" y2="437.11" stroke="#000" stroke-width="1.8" stroke-linecap="butt"/>
<line x1="863.45" y1="479.64" x2="872.65" y2="479.64" stroke="#000" stroke-width="1.8" stroke-linecap="butt"/>
<line x1="877.20" y1="429.38" x2="877.20" y2="460.79" stroke="#000" stroke-width="1.6" stroke-linecap="butt"/>
<line x1="872.60" y1="429.38" x2="881.80" y2="429.38" stroke="#000" stroke-width="1.8" stroke-linecap="butt"/>
<line x1="872.60" y1="460.79" x2="881.80" y2="460.79" stroke="#000" stroke-width="1.8" stroke-linecap="butt"/>
<line x1="886.35" y1="431.80" x2="886.35" y2="455.48" stroke="#000" stroke-width="1.6" stroke-linecap="butt"/>
<line x1="881.75" y1="431.80" x2="890.95" y2="431.80" stroke="#000" stroke-width="1.8" stroke-linecap="butt"/>
<line x1="881.75" y1="455.48" x2="890.95" y2="455.48" stroke="#000" stroke-width="1.8" stroke-linecap="butt"/>
<line x1="895.50" y1="439.53" x2="895.50" y2="469.97" stroke="#000" stroke-width="1.6" stroke-linecap="butt"/>
<line x1="890.90" y1="439.53" x2="900.10" y2="439.53" stroke="#000" stroke-width="1.8" stroke-linecap="butt"/>
<line x1="890.90" y1="469.97" x2="900.10" y2="469.97" stroke="#000" stroke-width="1.8" stroke-linecap="butt"/>
<line x1="904.65" y1="445.81" x2="904.65" y2="474.80" stroke="#000" stroke-width="1.6" stroke-linecap="butt"/>
<line x1="900.05" y1="445.81" x2="909.25" y2="445.81" stroke="#000" stroke-width="1.8" stroke-linecap="butt"/>
<line x1="900.05" y1="474.80" x2="909.25" y2="474.80" stroke="#000" stroke-width="1.8" stroke-linecap="butt"/>
<line x1="913.80" y1="448.47" x2="913.80" y2="481.81" stroke="#000" stroke-width="1.6" stroke-linecap="butt"/>
<line x1="909.20" y1="448.47" x2="918.40" y2="448.47" stroke="#000" stroke-width="1.8" stroke-linecap="butt"/>
<line x1="909.20" y1="481.81" x2="918.40" y2="481.81" stroke="#000" stroke-width="1.8" stroke-linecap="butt"/>
<line x1="922.95" y1="439.53" x2="922.95" y2="481.09" stroke="#000" stroke-width="1.6" stroke-linecap="butt"/>
<line x1="918.35" y1="439.53" x2="927.55" y2="439.53" stroke="#000" stroke-width="1.8" stroke-linecap="butt"/>
<line x1="918.35" y1="481.09" x2="927.55" y2="481.09" stroke="#000" stroke-width="1.8" stroke-linecap="butt"/>
<line x1="932.10" y1="451.37" x2="932.10" y2="484.71" stroke="#000" stroke-width="1.6" stroke-linecap="butt"/>
<line x1="927.50" y1="451.37" x2="936.70" y2="451.37" stroke="#000" stroke-width="1.8" stroke-linecap="butt"/>
<line x1="927.50" y1="484.71" x2="936.70" y2="484.71" stroke="#000" stroke-width="1.8" stroke-linecap="butt"/>
<line x1="941.25" y1="455.96" x2="941.25" y2="480.12" stroke="#000" stroke-width="1.6" stroke-linecap="butt"/>
<line x1="936.65" y1="455.96" x2="945.85" y2="455.96" stroke="#000" stroke-width="1.8" stroke-linecap="butt"/>
<line x1="936.65" y1="480.12" x2="945.85" y2="480.12" stroke="#000" stroke-width="1.8" stroke-linecap="butt"/>
<line x1="950.40" y1="439.77" x2="950.40" y2="478.43" stroke="#000" stroke-width="1.6" stroke-linecap="butt"/>
<line x1="945.80" y1="439.77" x2="955.00" y2="439.77" stroke="#000" stroke-width="1.8" stroke-linecap="butt"/>
<line x1="945.80" y1="478.43" x2="955.00" y2="478.43" stroke="#000" stroke-width="1.8" stroke-linecap="butt"/>
<line x1="959.55" y1="438.81" x2="959.55" y2="475.05" stroke="#000" stroke-width="1.6" stroke-linecap="butt"/>
<line x1="954.95" y1="438.81" x2="964.15" y2="438.81" stroke="#000" stroke-width="1.8" stroke-linecap="butt"/>
<line x1="954.95" y1="475.05" x2="964.15" y2="475.05" stroke="#000" stroke-width="1.8" stroke-linecap="butt"/>
<line x1="968.70" y1="447.50" x2="968.70" y2="505.49" stroke="#000" stroke-width="1.6" stroke-linecap="butt"/>
<line x1="964.10" y1="447.50" x2="973.30" y2="447.50" stroke="#000" stroke-width="1.8" stroke-linecap="butt"/>
<line x1="964.10" y1="505.49" x2="973.30" y2="505.49" stroke="#000" stroke-width="1.8" stroke-linecap="butt"/>
<line x1="977.85" y1="435.42" x2="977.85" y2="502.10" stroke="#000" stroke-width="1.6" stroke-linecap="butt"/>
<line x1="973.25" y1="435.42" x2="982.45" y2="435.42" stroke="#000" stroke-width="1.8" stroke-linecap="butt"/>
<line x1="973.25" y1="502.10" x2="982.45" y2="502.10" stroke="#000" stroke-width="1.8" stroke-linecap="butt"/>
<line x1="987.00" y1="432.28" x2="987.00" y2="467.56" stroke="#000" stroke-width="1.6" stroke-linecap="butt"/>
<line x1="982.40" y1="432.28" x2="991.60" y2="432.28" stroke="#000" stroke-width="1.8" stroke-linecap="butt"/>
<line x1="982.40" y1="467.56" x2="991.60" y2="467.56" stroke="#000" stroke-width="1.8" stroke-linecap="butt"/>
<line x1="593.55" y1="365.12" x2="593.55" y2="368.98" stroke="#000" stroke-width="1.6" stroke-linecap="butt"/>
<line x1="588.95" y1="365.12" x2="598.15" y2="365.12" stroke="#000" stroke-width="1.8" stroke-linecap="butt"/>
<line x1="588.95" y1="368.98" x2="598.15" y2="368.98" stroke="#000" stroke-width="1.8" stroke-linecap="butt"/>
<line x1="602.70" y1="368.26" x2="602.70" y2="387.59" stroke="#000" stroke-width="1.6" stroke-linecap="butt"/>
<line x1="598.10" y1="368.26" x2="607.30" y2="368.26" stroke="#000" stroke-width="1.8" stroke-linecap="butt"/>
<line x1="598.10" y1="387.59" x2="607.30" y2="387.59" stroke="#000" stroke-width="1.8" stroke-linecap="butt"/>
<line x1="611.85" y1="355.70" x2="611.85" y2="365.36" stroke="#000" stroke-width="1.6" stroke-linecap="butt"/>
<line x1="607.25" y1="355.70" x2="616.45" y2="355.70" stroke="#000" stroke-width="1.8" stroke-linecap="butt"/>
<line x1="607.25" y1="365.36" x2="616.45" y2="365.36" stroke="#000" stroke-width="1.8" stroke-linecap="butt"/>
<line x1="712.50" y1="434.70" x2="712.50" y2="482.05" stroke="#000" stroke-width="1.6" stroke-linecap="butt"/>
<line x1="707.90" y1="434.70" x2="717.10" y2="434.70" stroke="#000" stroke-width="1.8" stroke-linecap="butt"/>
<line x1="707.90" y1="482.05" x2="717.10" y2="482.05" stroke="#000" stroke-width="1.8" stroke-linecap="butt"/>
<line x1="721.65" y1="444.36" x2="721.65" y2="498.48" stroke="#000" stroke-width="1.6" stroke-linecap="butt"/>
<line x1="717.05" y1="444.36" x2="726.25" y2="444.36" stroke="#000" stroke-width="1.8" stroke-linecap="butt"/>
<line x1="717.05" y1="498.48" x2="726.25" y2="498.48" stroke="#000" stroke-width="1.8" stroke-linecap="butt"/>
<line x1="730.80" y1="445.33" x2="730.80" y2="485.92" stroke="#000" stroke-width="1.6" stroke-linecap="butt"/>
<line x1="726.20" y1="445.33" x2="735.40" y2="445.33" stroke="#000" stroke-width="1.8" stroke-linecap="butt"/>
<line x1="726.20" y1="485.92" x2="735.40" y2="485.92" stroke="#000" stroke-width="1.8" stroke-linecap="butt"/>
<line x1="739.95" y1="444.36" x2="739.95" y2="501.38" stroke="#000" stroke-width="1.6" stroke-linecap="butt"/>
<line x1="735.35" y1="444.36" x2="744.55" y2="444.36" stroke="#000" stroke-width="1.8" stroke-linecap="butt"/>
<line x1="735.35" y1="501.38" x2="744.55" y2="501.38" stroke="#000" stroke-width="1.8" stroke-linecap="butt"/>
<line x1="749.10" y1="448.95" x2="749.10" y2="504.04" stroke="#000" stroke-width="1.6" stroke-linecap="butt"/>
<line x1="744.50" y1="448.95" x2="753.70" y2="448.95" stroke="#000" stroke-width="1.8" stroke-linecap="butt"/>
<line x1="744.50" y1="504.04" x2="753.70" y2="504.04" stroke="#000" stroke-width="1.8" stroke-linecap="butt"/>
<line x1="758.25" y1="448.47" x2="758.25" y2="486.16" stroke="#000" stroke-width="1.6" stroke-linecap="butt"/>
<line x1="753.65" y1="448.47" x2="762.85" y2="448.47" stroke="#000" stroke-width="1.8" stroke-linecap="butt"/>
<line x1="753.65" y1="486.16" x2="762.85" y2="486.16" stroke="#000" stroke-width="1.8" stroke-linecap="butt"/>
<line x1="767.40" y1="458.86" x2="767.40" y2="509.11" stroke="#000" stroke-width="1.6" stroke-linecap="butt"/>
<line x1="762.80" y1="458.86" x2="772.00" y2="458.86" stroke="#000" stroke-width="1.8" stroke-linecap="butt"/>
<line x1="762.80" y1="509.11" x2="772.00" y2="509.11" stroke="#000" stroke-width="1.8" stroke-linecap="butt"/>
<line x1="776.55" y1="447.26" x2="776.55" y2="491.72" stroke="#000" stroke-width="1.6" stroke-linecap="butt"/>
<line x1="771.95" y1="447.26" x2="781.15" y2="447.26" stroke="#000" stroke-width="1.8" stroke-linecap="butt"/>
<line x1="771.95" y1="491.72" x2="781.15" y2="491.72" stroke="#000" stroke-width="1.8" stroke-linecap="butt"/>
<line x1="785.70" y1="442.19" x2="785.70" y2="502.10" stroke="#000" stroke-width="1.6" stroke-linecap="butt"/>
<line x1="781.10" y1="442.19" x2="790.30" y2="442.19" stroke="#000" stroke-width="1.8" stroke-linecap="butt"/>
<line x1="781.10" y1="502.10" x2="790.30" y2="502.10" stroke="#000" stroke-width="1.8" stroke-linecap="butt"/>
<line x1="794.85" y1="432.04" x2="794.85" y2="488.58" stroke="#000" stroke-width="1.6" stroke-linecap="butt"/>
<line x1="790.25" y1="432.04" x2="799.45" y2="432.04" stroke="#000" stroke-width="1.8" stroke-linecap="butt"/>
<line x1="790.25" y1="488.58" x2="799.45" y2="488.58" stroke="#000" stroke-width="1.8" stroke-linecap="butt"/>
<line x1="804.00" y1="434.46" x2="804.00" y2="497.27" stroke="#000" stroke-width="1.6" stroke-linecap="butt"/>
<line x1="799.40" y1="434.46" x2="808.60" y2="434.46" stroke="#000" stroke-width="1.8" stroke-linecap="butt"/>
<line x1="799.40" y1="497.27" x2="808.60" y2="497.27" stroke="#000" stroke-width="1.8" stroke-linecap="butt"/>
<line x1="813.15" y1="426.97" x2="813.15" y2="499.45" stroke="#000" stroke-width="1.6" stroke-linecap="butt"/>
<line x1="808.55" y1="426.97" x2="817.75" y2="426.97" stroke="#000" stroke-width="1.8" stroke-linecap="butt"/>
<line x1="808.55" y1="499.45" x2="817.75" y2="499.45" stroke="#000" stroke-width="1.8" stroke-linecap="butt"/>
<line x1="822.30" y1="437.11" x2="822.30" y2="504.28" stroke="#000" stroke-width="1.6" stroke-linecap="butt"/>
<line x1="817.70" y1="437.11" x2="826.90" y2="437.11" stroke="#000" stroke-width="1.8" stroke-linecap="butt"/>
<line x1="817.70" y1="504.28" x2="826.90" y2="504.28" stroke="#000" stroke-width="1.8" stroke-linecap="butt"/>
<line x1="831.45" y1="440.98" x2="831.45" y2="499.93" stroke="#000" stroke-width="1.6" stroke-linecap="butt"/>
<line x1="826.85" y1="440.98" x2="836.05" y2="440.98" stroke="#000" stroke-width="1.8" stroke-linecap="butt"/>
<line x1="826.85" y1="499.93" x2="836.05" y2="499.93" stroke="#000" stroke-width="1.8" stroke-linecap="butt"/>
<line x1="840.60" y1="458.13" x2="840.60" y2="508.39" stroke="#000" stroke-width="1.6" stroke-linecap="butt"/>
<line x1="836.00" y1="458.13" x2="845.20" y2="458.13" stroke="#000" stroke-width="1.8" stroke-linecap="butt"/>
<line x1="836.00" y1="508.39" x2="845.20" y2="508.39" stroke="#000" stroke-width="1.8" stroke-linecap="butt"/>
<line x1="849.75" y1="444.85" x2="849.75" y2="498.00" stroke="#000" stroke-width="1.6" stroke-linecap="butt"/>
<line x1="845.15" y1="444.85" x2="854.35" y2="444.85" stroke="#000" stroke-width="1.8" stroke-linecap="butt"/>
<line x1="845.15" y1="498.00" x2="854.35" y2="498.00" stroke="#000" stroke-width="1.8" stroke-linecap="butt"/>
<line x1="858.90" y1="439.53" x2="858.90" y2="507.66" stroke="#000" stroke-width="1.6" stroke-linecap="butt"/>
<line x1="854.30" y1="439.53" x2="863.50" y2="439.53" stroke="#000" stroke-width="1.8" stroke-linecap="butt"/>
<line x1="854.30" y1="507.66" x2="863.50" y2="507.66" stroke="#000" stroke-width="1.8" stroke-linecap="butt"/>
<line x1="868.05" y1="436.87" x2="868.05" y2="502.10" stroke="#000" stroke-width="1.6" stroke-linecap="butt"/>
<line x1="863.45" y1="436.87" x2="872.65" y2="436.87" stroke="#000" stroke-width="1.8" stroke-linecap="butt"/>
<line x1="863.45" y1="502.10" x2="872.65" y2="502.10" stroke="#000" stroke-width="1.8" stroke-linecap="butt"/>
<line x1="877.20" y1="453.06" x2="877.20" y2="512.01" stroke="#000" stroke-width="1.6" stroke-linecap="butt"/>
<line x1="872.60" y1="453.06" x2="881.80" y2="453.06" stroke="#000" stroke-width="1.8" stroke-linecap="butt"/>
<line x1="872.60" y1="512.01" x2="881.80" y2="512.01" stroke="#000" stroke-width="1.8" stroke-linecap="butt"/>
<line x1="886.35" y1="431.80" x2="886.35" y2="497.03" stroke="#000" stroke-width="1.6" stroke-linecap="butt"/>
<line x1="881.75" y1="431.80" x2="890.95" y2="431.80" stroke="#000" stroke-width="1.8" stroke-linecap="butt"/>
<line x1="881.75" y1="497.03" x2="890.95" y2="497.03" stroke="#000" stroke-width="1.8" stroke-linecap="butt"/>
<line x1="895.50" y1="445.81" x2="895.50" y2="502.83" stroke="#000" stroke-width="1.6" stroke-linecap="butt"/>
<line x1="890.90" y1="445.81" x2="900.10" y2="445.81" stroke="#000" stroke-width="1.8" stroke-linecap="butt"/>
<line x1="890.90" y1="502.83" x2="900.10" y2="502.83" stroke="#000" stroke-width="1.8" stroke-linecap="butt"/>
<line x1="904.65" y1="453.54" x2="904.65" y2="496.55" stroke="#000" stroke-width="1.6" stroke-linecap="butt"/>
<line x1="900.05" y1="453.54" x2="909.25" y2="453.54" stroke="#000" stroke-width="1.8" stroke-linecap="butt"/>
<line x1="900.05" y1="496.55" x2="909.25" y2="496.55" stroke="#000" stroke-width="1.8" stroke-linecap="butt"/>
<line x1="913.80" y1="435.18" x2="913.80" y2="496.55" stroke="#000" stroke-width="1.6" stroke-linecap="butt"/>
<line x1="909.20" y1="435.18" x2="918.40" y2="435.18" stroke="#000" stroke-width="1.8" stroke-linecap="butt"/>
<line x1="909.20" y1="496.55" x2="918.40" y2="496.55" stroke="#000" stroke-width="1.8" stroke-linecap="butt"/>
<line x1="922.95" y1="439.53" x2="922.95" y2="509.11" stroke="#000" stroke-width="1.6" stroke-linecap="butt"/>
<line x1="918.35" y1="439.53" x2="927.55" y2="439.53" stroke="#000" stroke-width="1.8" stroke-linecap="butt"/>
<line x1="918.35" y1="509.11" x2="927.55" y2="509.11" stroke="#000" stroke-width="1.8" stroke-linecap="butt"/>
<line x1="932.10" y1="454.03" x2="932.10" y2="505.73" stroke="#000" stroke-width="1.6" stroke-linecap="butt"/>
<line x1="927.50" y1="454.03" x2="936.70" y2="454.03" stroke="#000" stroke-width="1.8" stroke-linecap="butt"/>
<line x1="927.50" y1="505.73" x2="936.70" y2="505.73" stroke="#000" stroke-width="1.8" stroke-linecap="butt"/>
<line x1="941.25" y1="430.35" x2="941.25" y2="505.73" stroke="#000" stroke-width="1.6" stroke-linecap="butt"/>
<line x1="936.65" y1="430.35" x2="945.85" y2="430.35" stroke="#000" stroke-width="1.8" stroke-linecap="butt"/>
<line x1="936.65" y1="505.73" x2="945.85" y2="505.73" stroke="#000" stroke-width="1.8" stroke-linecap="butt"/>
<line x1="950.40" y1="438.08" x2="950.40" y2="507.66" stroke="#000" stroke-width="1.6" stroke-linecap="butt"/>
<line x1="945.80" y1="438.08" x2="955.00" y2="438.08" stroke="#000" stroke-width="1.8" stroke-linecap="butt"/>
<line x1="945.80" y1="507.66" x2="955.00" y2="507.66" stroke="#000" stroke-width="1.8" stroke-linecap="butt"/>
<line x1="959.55" y1="439.29" x2="959.55" y2="492.44" stroke="#000" stroke-width="1.6" stroke-linecap="butt"/>
<line x1="954.95" y1="439.29" x2="964.15" y2="439.29" stroke="#000" stroke-width="1.8" stroke-linecap="butt"/>
<line x1="954.95" y1="492.44" x2="964.15" y2="492.44" stroke="#000" stroke-width="1.8" stroke-linecap="butt"/>
<line x1="968.70" y1="447.50" x2="968.70" y2="505.49" stroke="#000" stroke-width="1.6" stroke-linecap="butt"/>
<line x1="964.10" y1="447.50" x2="973.30" y2="447.50" stroke="#000" stroke-width="1.8" stroke-linecap="butt"/>
<line x1="964.10" y1="505.49" x2="973.30" y2="505.49" stroke="#000" stroke-width="1.8" stroke-linecap="butt"/>
<line x1="977.85" y1="435.42" x2="977.85" y2="502.10" stroke="#000" stroke-width="1.6" stroke-linecap="butt"/>
<line x1="973.25" y1="435.42" x2="982.45" y2="435.42" stroke="#000" stroke-width="1.8" stroke-linecap="butt"/>
<line x1="973.25" y1="502.10" x2="982.45" y2="502.10" stroke="#000" stroke-width="1.8" stroke-linecap="butt"/>
<line x1="987.00" y1="440.74" x2="987.00" y2="500.66" stroke="#000" stroke-width="1.6" stroke-linecap="butt"/>
<line x1="982.40" y1="440.74" x2="991.60" y2="440.74" stroke="#000" stroke-width="1.8" stroke-linecap="butt"/>
<line x1="982.40" y1="500.66" x2="991.60" y2="500.66" stroke="#000" stroke-width="1.8" stroke-linecap="butt"/>
<rect x="589.75" y="375.33" width="7.60" height="7.60" fill="#fff" stroke="#000" stroke-width="1.6"/>
<rect x="598.90" y="361.80" width="7.60" height="7.60" fill="#fff" stroke="#000" stroke-width="1.6"/>
<rect x="608.05" y="356.73" width="7.60" height="7.60" fill="#fff" stroke="#000" stroke-width="1.6"/>
<rect x="708.70" y="427.27" width="7.60" height="7.60" fill="#fff" stroke="#000" stroke-width="1.6"/>
<rect x="717.85" y="418.09" width="7.60" height="7.60" fill="#fff" stroke="#000" stroke-width="1.6"/>
<rect x="727.00" y="415.19" width="7.60" height="7.60" fill="#fff" stroke="#000" stroke-width="1.6"/>
<rect x="736.15" y="428.00" width="7.60" height="7.60" fill="#fff" stroke="#000" stroke-width="1.6"/>
<rect x="745.30" y="425.82" width="7.60" height="7.60" fill="#fff" stroke="#000" stroke-width="1.6"/>
<rect x="754.45" y="430.42" width="7.60" height="7.60" fill="#fff" stroke="#000" stroke-width="1.6"/>
<rect x="763.60" y="430.42" width="7.60" height="7.60" fill="#fff" stroke="#000" stroke-width="1.6"/>
<rect x="772.75" y="433.31" width="7.60" height="7.60" fill="#fff" stroke="#000" stroke-width="1.6"/>
<rect x="781.90" y="428.72" width="7.60" height="7.60" fill="#fff" stroke="#000" stroke-width="1.6"/>
<rect x="791.05" y="435.73" width="7.60" height="7.60" fill="#fff" stroke="#000" stroke-width="1.6"/>
<rect x="800.20" y="443.94" width="7.60" height="7.60" fill="#fff" stroke="#000" stroke-width="1.6"/>
<rect x="809.35" y="439.84" width="7.60" height="7.60" fill="#fff" stroke="#000" stroke-width="1.6"/>
<rect x="818.50" y="454.58" width="7.60" height="7.60" fill="#fff" stroke="#000" stroke-width="1.6"/>
<rect x="827.65" y="454.58" width="7.60" height="7.60" fill="#fff" stroke="#000" stroke-width="1.6"/>
<rect x="836.80" y="458.68" width="7.60" height="7.60" fill="#fff" stroke="#000" stroke-width="1.6"/>
<rect x="845.95" y="445.39" width="7.60" height="7.60" fill="#fff" stroke="#000" stroke-width="1.6"/>
<rect x="855.10" y="456.51" width="7.60" height="7.60" fill="#fff" stroke="#000" stroke-width="1.6"/>
<rect x="864.25" y="454.58" width="7.60" height="7.60" fill="#fff" stroke="#000" stroke-width="1.6"/>
<rect x="873.40" y="441.29" width="7.60" height="7.60" fill="#fff" stroke="#000" stroke-width="1.6"/>
<rect x="882.55" y="439.84" width="7.60" height="7.60" fill="#fff" stroke="#000" stroke-width="1.6"/>
<rect x="891.70" y="450.95" width="7.60" height="7.60" fill="#fff" stroke="#000" stroke-width="1.6"/>
<rect x="900.85" y="456.51" width="7.60" height="7.60" fill="#fff" stroke="#000" stroke-width="1.6"/>
<rect x="910.00" y="461.34" width="7.60" height="7.60" fill="#fff" stroke="#000" stroke-width="1.6"/>
<rect x="919.15" y="456.51" width="7.60" height="7.60" fill="#fff" stroke="#000" stroke-width="1.6"/>
<rect x="928.30" y="464.24" width="7.60" height="7.60" fill="#fff" stroke="#000" stroke-width="1.6"/>
<rect x="937.45" y="464.24" width="7.60" height="7.60" fill="#fff" stroke="#000" stroke-width="1.6"/>
<rect x="946.60" y="455.30" width="7.60" height="7.60" fill="#fff" stroke="#000" stroke-width="1.6"/>
<rect x="955.75" y="453.13" width="7.60" height="7.60" fill="#fff" stroke="#000" stroke-width="1.6"/>
<rect x="964.90" y="472.70" width="7.60" height="7.60" fill="#fff" stroke="#000" stroke-width="1.6"/>
<rect x="974.05" y="464.96" width="7.60" height="7.60" fill="#fff" stroke="#000" stroke-width="1.6"/>
<rect x="983.20" y="446.12" width="7.60" height="7.60" fill="#fff" stroke="#000" stroke-width="1.6"/>
<path d="M589.75,363.45 L597.35,370.65 M597.35,363.45 L589.75,370.65" stroke="#000" stroke-width="2.3" stroke-linecap="round" fill="none"/>
<path d="M598.90,374.32 L606.50,381.52 M606.50,374.32 L598.90,381.52" stroke="#000" stroke-width="2.3" stroke-linecap="round" fill="none"/>
<path d="M608.05,356.93 L615.65,364.13 M615.65,356.93 L608.05,364.13" stroke="#000" stroke-width="2.3" stroke-linecap="round" fill="none"/>
<path d="M708.70,454.78 L716.30,461.98 M716.30,454.78 L708.70,461.98" stroke="#000" stroke-width="2.3" stroke-linecap="round" fill="none"/>
<path d="M717.85,467.82 L725.45,475.02 M725.45,467.82 L717.85,475.02" stroke="#000" stroke-width="2.3" stroke-linecap="round" fill="none"/>
<path d="M727.00,462.02 L734.60,469.22 M734.60,462.02 L727.00,469.22" stroke="#000" stroke-width="2.3" stroke-linecap="round" fill="none"/>
<path d="M736.15,469.27 L743.75,476.47 M743.75,469.27 L736.15,476.47" stroke="#000" stroke-width="2.3" stroke-linecap="round" fill="none"/>
<path d="M745.30,472.90 L752.90,480.10 M752.90,472.90 L745.30,480.10" stroke="#000" stroke-width="2.3" stroke-linecap="round" fill="none"/>
<path d="M754.45,463.71 L762.05,470.91 M762.05,463.71 L754.45,470.91" stroke="#000" stroke-width="2.3" stroke-linecap="round" fill="none"/>
<path d="M763.60,480.38 L771.20,487.58 M771.20,480.38 L763.60,487.58" stroke="#000" stroke-width="2.3" stroke-linecap="round" fill="none"/>
<path d="M772.75,465.89 L780.35,473.09 M780.35,465.89 L772.75,473.09" stroke="#000" stroke-width="2.3" stroke-linecap="round" fill="none"/>
<path d="M781.90,468.55 L789.50,475.75 M789.50,468.55 L781.90,475.75" stroke="#000" stroke-width="2.3" stroke-linecap="round" fill="none"/>
<path d="M791.05,456.71 L798.65,463.91 M798.65,456.71 L791.05,463.91" stroke="#000" stroke-width="2.3" stroke-linecap="round" fill="none"/>
<path d="M800.20,462.26 L807.80,469.46 M807.80,462.26 L800.20,469.46" stroke="#000" stroke-width="2.3" stroke-linecap="round" fill="none"/>
<path d="M809.35,459.61 L816.95,466.81 M816.95,459.61 L809.35,466.81" stroke="#000" stroke-width="2.3" stroke-linecap="round" fill="none"/>
<path d="M818.50,467.10 L826.10,474.30 M826.10,467.10 L818.50,474.30" stroke="#000" stroke-width="2.3" stroke-linecap="round" fill="none"/>
<path d="M827.65,466.86 L835.25,474.06 M835.25,466.86 L827.65,474.06" stroke="#000" stroke-width="2.3" stroke-linecap="round" fill="none"/>
<path d="M836.80,479.66 L844.40,486.86 M844.40,479.66 L836.80,486.86" stroke="#000" stroke-width="2.3" stroke-linecap="round" fill="none"/>
<path d="M845.95,467.82 L853.55,475.02 M853.55,467.82 L845.95,475.02" stroke="#000" stroke-width="2.3" stroke-linecap="round" fill="none"/>
<path d="M855.10,470.00 L862.70,477.20 M862.70,470.00 L855.10,477.20" stroke="#000" stroke-width="2.3" stroke-linecap="round" fill="none"/>
<path d="M864.25,465.89 L871.85,473.09 M871.85,465.89 L864.25,473.09" stroke="#000" stroke-width="2.3" stroke-linecap="round" fill="none"/>
<path d="M873.40,478.94 L881.00,486.14 M881.00,478.94 L873.40,486.14" stroke="#000" stroke-width="2.3" stroke-linecap="round" fill="none"/>
<path d="M882.55,460.82 L890.15,468.02 M890.15,460.82 L882.55,468.02" stroke="#000" stroke-width="2.3" stroke-linecap="round" fill="none"/>
<path d="M891.70,470.72 L899.30,477.92 M899.30,470.72 L891.70,477.92" stroke="#000" stroke-width="2.3" stroke-linecap="round" fill="none"/>
<path d="M900.85,471.45 L908.45,478.65 M908.45,471.45 L900.85,478.65" stroke="#000" stroke-width="2.3" stroke-linecap="round" fill="none"/>
<path d="M910.00,462.26 L917.60,469.46 M917.60,462.26 L910.00,469.46" stroke="#000" stroke-width="2.3" stroke-linecap="round" fill="none"/>
<path d="M919.15,470.72 L926.75,477.92 M926.75,470.72 L919.15,477.92" stroke="#000" stroke-width="2.3" stroke-linecap="round" fill="none"/>
<path d="M928.30,476.28 L935.90,483.48 M935.90,476.28 L928.30,483.48" stroke="#000" stroke-width="2.3" stroke-linecap="round" fill="none"/>
<path d="M937.45,464.44 L945.05,471.64 M945.05,464.44 L937.45,471.64" stroke="#000" stroke-width="2.3" stroke-linecap="round" fill="none"/>
<path d="M946.60,469.27 L954.20,476.47 M954.20,469.27 L946.60,476.47" stroke="#000" stroke-width="2.3" stroke-linecap="round" fill="none"/>
<path d="M955.75,462.26 L963.35,469.46 M963.35,462.26 L955.75,469.46" stroke="#000" stroke-width="2.3" stroke-linecap="round" fill="none"/>
<path d="M964.90,472.90 L972.50,480.10 M972.50,472.90 L964.90,480.10" stroke="#000" stroke-width="2.3" stroke-linecap="round" fill="none"/>
<path d="M974.05,465.16 L981.65,472.36 M981.65,465.16 L974.05,472.36" stroke="#000" stroke-width="2.3" stroke-linecap="round" fill="none"/>
<path d="M983.20,467.10 L990.80,474.30 M990.80,467.10 L983.20,474.30" stroke="#000" stroke-width="2.3" stroke-linecap="round" fill="none"/>
<line x1="894.60" y1="376.60" x2="912.60" y2="376.60" stroke="#555" stroke-width="1.4" stroke-linecap="butt"/>
<line x1="901.40" y1="400.00" x2="991.10" y2="400.00" stroke="#000" stroke-width="2.3" stroke-linecap="butt"/>
<path d="M940.80,391.80 L940.80,396.60 M942.88,393.00 L938.72,395.40 M942.88,395.40 L938.72,393.00 " stroke="#4a4a4a" stroke-width="1.5" fill="none"/>
<path d="M948.10,391.80 L948.10,396.60 M950.18,393.00 L946.02,395.40 M950.18,395.40 L946.02,393.00 " stroke="#4a4a4a" stroke-width="1.5" fill="none"/>
<path d="M955.40,391.80 L955.40,396.60 M957.48,393.00 L953.32,395.40 M957.48,395.40 L953.32,393.00 " stroke="#4a4a4a" stroke-width="1.5" fill="none"/>
<line x1="60.20" y1="694.80" x2="60.20" y2="801.50" stroke="#000" stroke-width="2.2" stroke-linecap="butt"/>
<line x1="55.70" y1="800.40" x2="515.30" y2="800.40" stroke="#000" stroke-width="2.2" stroke-linecap="butt"/>
<line x1="55.70" y1="800.40" x2="60.20" y2="800.40" stroke="#000" stroke-width="2.2" stroke-linecap="butt"/>
<text x="51.0" y="804.7" font-family="'Liberation Serif', serif" font-size="12.8" text-anchor="end" fill="#1a1a1a" stroke="#1a1a1a" stroke-width="0.3" textLength="5.4" lengthAdjust="spacingAndGlyphs">0</text>
<line x1="55.70" y1="748.05" x2="60.20" y2="748.05" stroke="#000" stroke-width="2.2" stroke-linecap="butt"/>
<text x="51.0" y="752.3" font-family="'Liberation Serif', serif" font-size="12.8" text-anchor="end" fill="#1a1a1a" stroke="#1a1a1a" stroke-width="0.3" textLength="16.2" lengthAdjust="spacingAndGlyphs">100</text>
<line x1="55.70" y1="695.70" x2="60.20" y2="695.70" stroke="#000" stroke-width="2.2" stroke-linecap="butt"/>
<text x="51.0" y="700.0" font-family="'Liberation Serif', serif" font-size="12.8" text-anchor="end" fill="#1a1a1a" stroke="#1a1a1a" stroke-width="0.3" textLength="16.2" lengthAdjust="spacingAndGlyphs">200</text>
<line x1="60.20" y1="800.40" x2="60.20" y2="804.90" stroke="#000" stroke-width="2.2" stroke-linecap="butt"/>
<text x="60.2" y="816.0" font-family="'Liberation Serif', serif" font-size="12.8" text-anchor="middle" fill="#1a1a1a" stroke="#1a1a1a" stroke-width="0.3" textLength="5.4" lengthAdjust="spacingAndGlyphs">0</text>
<line x1="151.00" y1="800.40" x2="151.00" y2="804.90" stroke="#000" stroke-width="2.2" stroke-linecap="butt"/>
<text x="151.0" y="816.0" font-family="'Liberation Serif', serif" font-size="12.8" text-anchor="middle" fill="#1a1a1a" stroke="#1a1a1a" stroke-width="0.3" textLength="10.8" lengthAdjust="spacingAndGlyphs">10</text>
<line x1="241.80" y1="800.40" x2="241.80" y2="804.90" stroke="#000" stroke-width="2.2" stroke-linecap="butt"/>
<text x="241.8" y="816.0" font-family="'Liberation Serif', serif" font-size="12.8" text-anchor="middle" fill="#1a1a1a" stroke="#1a1a1a" stroke-width="0.3" textLength="10.8" lengthAdjust="spacingAndGlyphs">20</text>
<line x1="332.60" y1="800.40" x2="332.60" y2="804.90" stroke="#000" stroke-width="2.2" stroke-linecap="butt"/>
<text x="332.6" y="816.0" font-family="'Liberation Serif', serif" font-size="12.8" text-anchor="middle" fill="#1a1a1a" stroke="#1a1a1a" stroke-width="0.3" textLength="10.8" lengthAdjust="spacingAndGlyphs">30</text>
<line x1="423.40" y1="800.40" x2="423.40" y2="804.90" stroke="#000" stroke-width="2.2" stroke-linecap="butt"/>
<text x="423.4" y="816.0" font-family="'Liberation Serif', serif" font-size="12.8" text-anchor="middle" fill="#1a1a1a" stroke="#1a1a1a" stroke-width="0.3" textLength="10.8" lengthAdjust="spacingAndGlyphs">40</text>
<line x1="514.20" y1="800.40" x2="514.20" y2="804.90" stroke="#000" stroke-width="2.2" stroke-linecap="butt"/>
<text x="514.2" y="816.0" font-family="'Liberation Serif', serif" font-size="12.8" text-anchor="middle" fill="#1a1a1a" stroke="#1a1a1a" stroke-width="0.3" textLength="10.8" lengthAdjust="spacingAndGlyphs">50</text>
<text transform="translate(23.0,744.6) rotate(-90)" x="0" y="0" font-family="'Liberation Sans', sans-serif" font-size="17" text-anchor="middle" fill="#111" textLength="63" lengthAdjust="spacingAndGlyphs">R<tspan font-size="10" dy="0.3">m</tspan><tspan dy="-0.3"> (m&#937;)</tspan></text>
<text x="248.1" y="842.9" font-family="'Liberation Sans', sans-serif" font-size="16" text-anchor="start" fill="#111" textLength="76.2" lengthAdjust="spacingAndGlyphs">Time (min)</text>
<line x1="69.28" y1="729.30" x2="69.28" y2="744.30" stroke="#000" stroke-width="1.6" stroke-linecap="butt"/>
<line x1="64.28" y1="729.30" x2="74.28" y2="729.30" stroke="#000" stroke-width="1.9" stroke-linecap="butt"/>
<line x1="64.28" y1="744.30" x2="74.28" y2="744.30" stroke="#000" stroke-width="1.9" stroke-linecap="butt"/>
<line x1="78.36" y1="729.60" x2="78.36" y2="744.60" stroke="#000" stroke-width="1.6" stroke-linecap="butt"/>
<line x1="73.36" y1="729.60" x2="83.36" y2="729.60" stroke="#000" stroke-width="1.9" stroke-linecap="butt"/>
<line x1="73.36" y1="744.60" x2="83.36" y2="744.60" stroke="#000" stroke-width="1.9" stroke-linecap="butt"/>
<line x1="87.44" y1="729.30" x2="87.44" y2="744.30" stroke="#000" stroke-width="1.6" stroke-linecap="butt"/>
<line x1="82.44" y1="729.30" x2="92.44" y2="729.30" stroke="#000" stroke-width="1.9" stroke-linecap="butt"/>
<line x1="82.44" y1="744.30" x2="92.44" y2="744.30" stroke="#000" stroke-width="1.9" stroke-linecap="butt"/>
<line x1="187.32" y1="730.30" x2="187.32" y2="746.70" stroke="#000" stroke-width="1.6" stroke-linecap="butt"/>
<line x1="182.32" y1="730.30" x2="192.32" y2="730.30" stroke="#000" stroke-width="1.9" stroke-linecap="butt"/>
<line x1="182.32" y1="746.70" x2="192.32" y2="746.70" stroke="#000" stroke-width="1.9" stroke-linecap="butt"/>
<line x1="196.40" y1="728.30" x2="196.40" y2="744.70" stroke="#000" stroke-width="1.6" stroke-linecap="butt"/>
<line x1="191.40" y1="728.30" x2="201.40" y2="728.30" stroke="#000" stroke-width="1.9" stroke-linecap="butt"/>
<line x1="191.40" y1="744.70" x2="201.40" y2="744.70" stroke="#000" stroke-width="1.9" stroke-linecap="butt"/>
<line x1="205.48" y1="730.80" x2="205.48" y2="747.20" stroke="#000" stroke-width="1.6" stroke-linecap="butt"/>
<line x1="200.48" y1="730.80" x2="210.48" y2="730.80" stroke="#000" stroke-width="1.9" stroke-linecap="butt"/>
<line x1="200.48" y1="747.20" x2="210.48" y2="747.20" stroke="#000" stroke-width="1.9" stroke-linecap="butt"/>
<line x1="214.56" y1="730.80" x2="214.56" y2="747.20" stroke="#000" stroke-width="1.6" stroke-linecap="butt"/>
<line x1="209.56" y1="730.80" x2="219.56" y2="730.80" stroke="#000" stroke-width="1.9" stroke-linecap="butt"/>
<line x1="209.56" y1="747.20" x2="219.56" y2="747.20" stroke="#000" stroke-width="1.9" stroke-linecap="butt"/>
<line x1="223.64" y1="731.80" x2="223.64" y2="748.20" stroke="#000" stroke-width="1.6" stroke-linecap="butt"/>
<line x1="218.64" y1="731.80" x2="228.64" y2="731.80" stroke="#000" stroke-width="1.9" stroke-linecap="butt"/>
<line x1="218.64" y1="748.20" x2="228.64" y2="748.20" stroke="#000" stroke-width="1.9" stroke-linecap="butt"/>
<line x1="232.72" y1="731.30" x2="232.72" y2="747.70" stroke="#000" stroke-width="1.6" stroke-linecap="butt"/>
<line x1="227.72" y1="731.30" x2="237.72" y2="731.30" stroke="#000" stroke-width="1.9" stroke-linecap="butt"/>
<line x1="227.72" y1="747.70" x2="237.72" y2="747.70" stroke="#000" stroke-width="1.9" stroke-linecap="butt"/>
<line x1="241.80" y1="731.30" x2="241.80" y2="747.70" stroke="#000" stroke-width="1.6" stroke-linecap="butt"/>
<line x1="236.80" y1="731.30" x2="246.80" y2="731.30" stroke="#000" stroke-width="1.9" stroke-linecap="butt"/>
<line x1="236.80" y1="747.70" x2="246.80" y2="747.70" stroke="#000" stroke-width="1.9" stroke-linecap="butt"/>
<line x1="250.88" y1="730.30" x2="250.88" y2="746.70" stroke="#000" stroke-width="1.6" stroke-linecap="butt"/>
<line x1="245.88" y1="730.30" x2="255.88" y2="730.30" stroke="#000" stroke-width="1.9" stroke-linecap="butt"/>
<line x1="245.88" y1="746.70" x2="255.88" y2="746.70" stroke="#000" stroke-width="1.9" stroke-linecap="butt"/>
<line x1="259.96" y1="730.80" x2="259.96" y2="747.20" stroke="#000" stroke-width="1.6" stroke-linecap="butt"/>
<line x1="254.96" y1="730.80" x2="264.96" y2="730.80" stroke="#000" stroke-width="1.9" stroke-linecap="butt"/>
<line x1="254.96" y1="747.20" x2="264.96" y2="747.20" stroke="#000" stroke-width="1.9" stroke-linecap="butt"/>
<line x1="269.04" y1="730.30" x2="269.04" y2="746.70" stroke="#000" stroke-width="1.6" stroke-linecap="butt"/>
<line x1="264.04" y1="730.30" x2="274.04" y2="730.30" stroke="#000" stroke-width="1.9" stroke-linecap="butt"/>
<line x1="264.04" y1="746.70" x2="274.04" y2="746.70" stroke="#000" stroke-width="1.9" stroke-linecap="butt"/>
<line x1="278.12" y1="733.30" x2="278.12" y2="749.70" stroke="#000" stroke-width="1.6" stroke-linecap="butt"/>
<line x1="273.12" y1="733.30" x2="283.12" y2="733.30" stroke="#000" stroke-width="1.9" stroke-linecap="butt"/>
<line x1="273.12" y1="749.70" x2="283.12" y2="749.70" stroke="#000" stroke-width="1.9" stroke-linecap="butt"/>
<line x1="287.20" y1="730.80" x2="287.20" y2="747.20" stroke="#000" stroke-width="1.6" stroke-linecap="butt"/>
<line x1="282.20" y1="730.80" x2="292.20" y2="730.80" stroke="#000" stroke-width="1.9" stroke-linecap="butt"/>
<line x1="282.20" y1="747.20" x2="292.20" y2="747.20" stroke="#000" stroke-width="1.9" stroke-linecap="butt"/>
<line x1="296.28" y1="730.80" x2="296.28" y2="747.20" stroke="#000" stroke-width="1.6" stroke-linecap="butt"/>
<line x1="291.28" y1="730.80" x2="301.28" y2="730.80" stroke="#000" stroke-width="1.9" stroke-linecap="butt"/>
<line x1="291.28" y1="747.20" x2="301.28" y2="747.20" stroke="#000" stroke-width="1.9" stroke-linecap="butt"/>
<line x1="305.36" y1="729.30" x2="305.36" y2="745.70" stroke="#000" stroke-width="1.6" stroke-linecap="butt"/>
<line x1="300.36" y1="729.30" x2="310.36" y2="729.30" stroke="#000" stroke-width="1.9" stroke-linecap="butt"/>
<line x1="300.36" y1="745.70" x2="310.36" y2="745.70" stroke="#000" stroke-width="1.9" stroke-linecap="butt"/>
<line x1="314.44" y1="728.30" x2="314.44" y2="744.70" stroke="#000" stroke-width="1.6" stroke-linecap="butt"/>
<line x1="309.44" y1="728.30" x2="319.44" y2="728.30" stroke="#000" stroke-width="1.9" stroke-linecap="butt"/>
<line x1="309.44" y1="744.70" x2="319.44" y2="744.70" stroke="#000" stroke-width="1.9" stroke-linecap="butt"/>
<line x1="323.52" y1="730.30" x2="323.52" y2="746.70" stroke="#000" stroke-width="1.6" stroke-linecap="butt"/>
<line x1="318.52" y1="730.30" x2="328.52" y2="730.30" stroke="#000" stroke-width="1.9" stroke-linecap="butt"/>
<line x1="318.52" y1="746.70" x2="328.52" y2="746.70" stroke="#000" stroke-width="1.9" stroke-linecap="butt"/>
<line x1="332.60" y1="730.30" x2="332.60" y2="746.70" stroke="#000" stroke-width="1.6" stroke-linecap="butt"/>
<line x1="327.60" y1="730.30" x2="337.60" y2="730.30" stroke="#000" stroke-width="1.9" stroke-linecap="butt"/>
<line x1="327.60" y1="746.70" x2="337.60" y2="746.70" stroke="#000" stroke-width="1.9" stroke-linecap="butt"/>
<line x1="341.68" y1="730.30" x2="341.68" y2="746.70" stroke="#000" stroke-width="1.6" stroke-linecap="butt"/>
<line x1="336.68" y1="730.30" x2="346.68" y2="730.30" stroke="#000" stroke-width="1.9" stroke-linecap="butt"/>
<line x1="336.68" y1="746.70" x2="346.68" y2="746.70" stroke="#000" stroke-width="1.9" stroke-linecap="butt"/>
<line x1="350.76" y1="731.30" x2="350.76" y2="747.70" stroke="#000" stroke-width="1.6" stroke-linecap="butt"/>
<line x1="345.76" y1="731.30" x2="355.76" y2="731.30" stroke="#000" stroke-width="1.9" stroke-linecap="butt"/>
<line x1="345.76" y1="747.70" x2="355.76" y2="747.70" stroke="#000" stroke-width="1.9" stroke-linecap="butt"/>
<line x1="359.84" y1="729.80" x2="359.84" y2="746.20" stroke="#000" stroke-width="1.6" stroke-linecap="butt"/>
<line x1="354.84" y1="729.80" x2="364.84" y2="729.80" stroke="#000" stroke-width="1.9" stroke-linecap="butt"/>
<line x1="354.84" y1="746.20" x2="364.84" y2="746.20" stroke="#000" stroke-width="1.9" stroke-linecap="butt"/>
<line x1="368.92" y1="730.30" x2="368.92" y2="746.70" stroke="#000" stroke-width="1.6" stroke-linecap="butt"/>
<line x1="363.92" y1="730.30" x2="373.92" y2="730.30" stroke="#000" stroke-width="1.9" stroke-linecap="butt"/>
<line x1="363.92" y1="746.70" x2="373.92" y2="746.70" stroke="#000" stroke-width="1.9" stroke-linecap="butt"/>
<line x1="378.00" y1="729.30" x2="378.00" y2="745.70" stroke="#000" stroke-width="1.6" stroke-linecap="butt"/>
<line x1="373.00" y1="729.30" x2="383.00" y2="729.30" stroke="#000" stroke-width="1.9" stroke-linecap="butt"/>
<line x1="373.00" y1="745.70" x2="383.00" y2="745.70" stroke="#000" stroke-width="1.9" stroke-linecap="butt"/>
<line x1="387.08" y1="730.30" x2="387.08" y2="746.70" stroke="#000" stroke-width="1.6" stroke-linecap="butt"/>
<line x1="382.08" y1="730.30" x2="392.08" y2="730.30" stroke="#000" stroke-width="1.9" stroke-linecap="butt"/>
<line x1="382.08" y1="746.70" x2="392.08" y2="746.70" stroke="#000" stroke-width="1.9" stroke-linecap="butt"/>
<line x1="396.16" y1="731.30" x2="396.16" y2="747.70" stroke="#000" stroke-width="1.6" stroke-linecap="butt"/>
<line x1="391.16" y1="731.30" x2="401.16" y2="731.30" stroke="#000" stroke-width="1.9" stroke-linecap="butt"/>
<line x1="391.16" y1="747.70" x2="401.16" y2="747.70" stroke="#000" stroke-width="1.9" stroke-linecap="butt"/>
<line x1="405.24" y1="729.80" x2="405.24" y2="746.20" stroke="#000" stroke-width="1.6" stroke-linecap="butt"/>
<line x1="400.24" y1="729.80" x2="410.24" y2="729.80" stroke="#000" stroke-width="1.9" stroke-linecap="butt"/>
<line x1="400.24" y1="746.20" x2="410.24" y2="746.20" stroke="#000" stroke-width="1.9" stroke-linecap="butt"/>
<line x1="414.32" y1="729.80" x2="414.32" y2="746.20" stroke="#000" stroke-width="1.6" stroke-linecap="butt"/>
<line x1="409.32" y1="729.80" x2="419.32" y2="729.80" stroke="#000" stroke-width="1.9" stroke-linecap="butt"/>
<line x1="409.32" y1="746.20" x2="419.32" y2="746.20" stroke="#000" stroke-width="1.9" stroke-linecap="butt"/>
<line x1="423.40" y1="730.30" x2="423.40" y2="746.70" stroke="#000" stroke-width="1.6" stroke-linecap="butt"/>
<line x1="418.40" y1="730.30" x2="428.40" y2="730.30" stroke="#000" stroke-width="1.9" stroke-linecap="butt"/>
<line x1="418.40" y1="746.70" x2="428.40" y2="746.70" stroke="#000" stroke-width="1.9" stroke-linecap="butt"/>
<line x1="432.48" y1="726.50" x2="432.48" y2="746.50" stroke="#000" stroke-width="1.6" stroke-linecap="butt"/>
<line x1="427.48" y1="726.50" x2="437.48" y2="726.50" stroke="#000" stroke-width="1.9" stroke-linecap="butt"/>
<line x1="427.48" y1="746.50" x2="437.48" y2="746.50" stroke="#000" stroke-width="1.9" stroke-linecap="butt"/>
<line x1="441.56" y1="735.00" x2="441.56" y2="749.00" stroke="#000" stroke-width="1.6" stroke-linecap="butt"/>
<line x1="436.56" y1="735.00" x2="446.56" y2="735.00" stroke="#000" stroke-width="1.9" stroke-linecap="butt"/>
<line x1="436.56" y1="749.00" x2="446.56" y2="749.00" stroke="#000" stroke-width="1.9" stroke-linecap="butt"/>
<line x1="450.64" y1="731.30" x2="450.64" y2="747.70" stroke="#000" stroke-width="1.6" stroke-linecap="butt"/>
<line x1="445.64" y1="731.30" x2="455.64" y2="731.30" stroke="#000" stroke-width="1.9" stroke-linecap="butt"/>
<line x1="445.64" y1="747.70" x2="455.64" y2="747.70" stroke="#000" stroke-width="1.9" stroke-linecap="butt"/>
<line x1="459.72" y1="731.70" x2="459.72" y2="749.30" stroke="#000" stroke-width="1.6" stroke-linecap="butt"/>
<line x1="454.72" y1="731.70" x2="464.72" y2="731.70" stroke="#000" stroke-width="1.9" stroke-linecap="butt"/>
<line x1="454.72" y1="749.30" x2="464.72" y2="749.30" stroke="#000" stroke-width="1.9" stroke-linecap="butt"/>
<circle cx="69.28" cy="736.80" r="4.7" fill="#000"/>
<circle cx="78.36" cy="737.10" r="4.7" fill="#000"/>
<circle cx="87.44" cy="736.80" r="4.7" fill="#000"/>
<circle cx="187.32" cy="738.50" r="4.7" fill="#000"/>
<circle cx="196.40" cy="736.50" r="4.7" fill="#000"/>
<circle cx="205.48" cy="739.00" r="4.7" fill="#000"/>
<circle cx="214.56" cy="739.00" r="4.7" fill="#000"/>
<circle cx="223.64" cy="740.00" r="4.7" fill="#000"/>
<circle cx="232.72" cy="739.50" r="4.7" fill="#000"/>
<circle cx="241.80" cy="739.50" r="4.7" fill="#000"/>
<circle cx="250.88" cy="738.50" r="4.7" fill="#000"/>
<circle cx="259.96" cy="739.00" r="4.7" fill="#000"/>
<circle cx="269.04" cy="738.50" r="4.7" fill="#000"/>
<circle cx="278.12" cy="741.50" r="4.7" fill="#000"/>
<circle cx="287.20" cy="739.00" r="4.7" fill="#000"/>
<circle cx="296.28" cy="739.00" r="4.7" fill="#000"/>
<circle cx="305.36" cy="737.50" r="4.7" fill="#000"/>
<circle cx="314.44" cy="736.50" r="4.7" fill="#000"/>
<circle cx="323.52" cy="738.50" r="4.7" fill="#000"/>
<circle cx="332.60" cy="738.50" r="4.7" fill="#000"/>
<circle cx="341.68" cy="738.50" r="4.7" fill="#000"/>
<circle cx="350.76" cy="739.50" r="4.7" fill="#000"/>
<circle cx="359.84" cy="738.00" r="4.7" fill="#000"/>
<circle cx="368.92" cy="738.50" r="4.7" fill="#000"/>
<circle cx="378.00" cy="737.50" r="4.7" fill="#000"/>
<circle cx="387.08" cy="738.50" r="4.7" fill="#000"/>
<circle cx="396.16" cy="739.50" r="4.7" fill="#000"/>
<circle cx="405.24" cy="738.00" r="4.7" fill="#000"/>
<circle cx="414.32" cy="738.00" r="4.7" fill="#000"/>
<circle cx="423.40" cy="738.50" r="4.7" fill="#000"/>
<circle cx="432.48" cy="736.50" r="4.7" fill="#000"/>
<circle cx="441.56" cy="742.00" r="4.7" fill="#000"/>
<circle cx="450.64" cy="739.50" r="4.7" fill="#000"/>
<circle cx="459.72" cy="740.50" r="4.7" fill="#000"/>
<line x1="585.20" y1="693.20" x2="585.20" y2="800.60" stroke="#000" stroke-width="2.2" stroke-linecap="butt"/>
<line x1="580.70" y1="799.50" x2="1040.80" y2="799.50" stroke="#000" stroke-width="2.2" stroke-linecap="butt"/>
<line x1="580.70" y1="799.50" x2="585.20" y2="799.50" stroke="#000" stroke-width="2.2" stroke-linecap="butt"/>
<text x="576.0" y="803.8" font-family="'Liberation Serif', serif" font-size="12.8" text-anchor="end" fill="#1a1a1a" stroke="#1a1a1a" stroke-width="0.3" textLength="5.4" lengthAdjust="spacingAndGlyphs">0</text>
<line x1="580.70" y1="746.80" x2="585.20" y2="746.80" stroke="#000" stroke-width="2.2" stroke-linecap="butt"/>
<text x="576.0" y="751.1" font-family="'Liberation Serif', serif" font-size="12.8" text-anchor="end" fill="#1a1a1a" stroke="#1a1a1a" stroke-width="0.3" textLength="16.2" lengthAdjust="spacingAndGlyphs">100</text>
<line x1="580.70" y1="694.10" x2="585.20" y2="694.10" stroke="#000" stroke-width="2.2" stroke-linecap="butt"/>
<text x="576.0" y="698.4" font-family="'Liberation Serif', serif" font-size="12.8" text-anchor="end" fill="#1a1a1a" stroke="#1a1a1a" stroke-width="0.3" textLength="16.2" lengthAdjust="spacingAndGlyphs">200</text>
<line x1="585.20" y1="799.50" x2="585.20" y2="804.00" stroke="#000" stroke-width="2.2" stroke-linecap="butt"/>
<text x="585.2" y="815.1" font-family="'Liberation Serif', serif" font-size="12.8" text-anchor="middle" fill="#1a1a1a" stroke="#1a1a1a" stroke-width="0.3" textLength="5.4" lengthAdjust="spacingAndGlyphs">0</text>
<line x1="676.10" y1="799.50" x2="676.10" y2="804.00" stroke="#000" stroke-width="2.2" stroke-linecap="butt"/>
<text x="676.1" y="815.1" font-family="'Liberation Serif', serif" font-size="12.8" text-anchor="middle" fill="#1a1a1a" stroke="#1a1a1a" stroke-width="0.3" textLength="10.8" lengthAdjust="spacingAndGlyphs">10</text>
<line x1="767.00" y1="799.50" x2="767.00" y2="804.00" stroke="#000" stroke-width="2.2" stroke-linecap="butt"/>
<text x="767.0" y="815.1" font-family="'Liberation Serif', serif" font-size="12.8" text-anchor="middle" fill="#1a1a1a" stroke="#1a1a1a" stroke-width="0.3" textLength="10.8" lengthAdjust="spacingAndGlyphs">20</text>
<line x1="857.90" y1="799.50" x2="857.90" y2="804.00" stroke="#000" stroke-width="2.2" stroke-linecap="butt"/>
<text x="857.9" y="815.1" font-family="'Liberation Serif', serif" font-size="12.8" text-anchor="middle" fill="#1a1a1a" stroke="#1a1a1a" stroke-width="0.3" textLength="10.8" lengthAdjust="spacingAndGlyphs">30</text>
<line x1="948.80" y1="799.50" x2="948.80" y2="804.00" stroke="#000" stroke-width="2.2" stroke-linecap="butt"/>
<text x="948.8" y="815.1" font-family="'Liberation Serif', serif" font-size="12.8" text-anchor="middle" fill="#1a1a1a" stroke="#1a1a1a" stroke-width="0.3" textLength="10.8" lengthAdjust="spacingAndGlyphs">40</text>
<line x1="1039.70" y1="799.50" x2="1039.70" y2="804.00" stroke="#000" stroke-width="2.2" stroke-linecap="butt"/>
<text x="1039.7" y="815.1" font-family="'Liberation Serif', serif" font-size="12.8" text-anchor="middle" fill="#1a1a1a" stroke="#1a1a1a" stroke-width="0.3" textLength="10.8" lengthAdjust="spacingAndGlyphs">50</text>
<text transform="translate(550.6,744.6) rotate(-90)" x="0" y="0" font-family="'Liberation Sans', sans-serif" font-size="17" text-anchor="middle" fill="#111" textLength="63" lengthAdjust="spacingAndGlyphs">R<tspan font-size="10" dy="0.3">m</tspan><tspan dy="-0.3"> (m&#937;)</tspan></text>
<text x="785.7" y="846.7" font-family="'Liberation Sans', sans-serif" font-size="16" text-anchor="start" fill="#111" textLength="76.2" lengthAdjust="spacingAndGlyphs">Time (min)</text>
<circle cx="594.29" cy="725.10" r="4.7" fill="#000"/>
<circle cx="603.38" cy="728.60" r="4.7" fill="#000"/>
<circle cx="612.47" cy="729.10" r="4.7" fill="#000"/>
<circle cx="712.46" cy="728.20" r="4.7" fill="#000"/>
<circle cx="721.55" cy="727.10" r="4.7" fill="#000"/>
<circle cx="730.64" cy="726.70" r="4.7" fill="#000"/>
<circle cx="739.73" cy="729.00" r="4.7" fill="#000"/>
<circle cx="748.82" cy="727.40" r="4.7" fill="#000"/>
<circle cx="757.91" cy="724.10" r="4.7" fill="#000"/>
<circle cx="767.00" cy="727.40" r="4.7" fill="#000"/>
<circle cx="776.09" cy="725.10" r="4.7" fill="#000"/>
<circle cx="785.18" cy="729.70" r="4.7" fill="#000"/>
<circle cx="794.27" cy="725.10" r="4.7" fill="#000"/>
<circle cx="803.36" cy="729.70" r="4.7" fill="#000"/>
<circle cx="812.45" cy="728.20" r="4.7" fill="#000"/>
<circle cx="821.54" cy="726.70" r="4.7" fill="#000"/>
<circle cx="830.63" cy="730.20" r="4.7" fill="#000"/>
<circle cx="839.72" cy="728.20" r="4.7" fill="#000"/>
<circle cx="848.81" cy="727.10" r="4.7" fill="#000"/>
<circle cx="857.90" cy="729.00" r="4.7" fill="#000"/>
<circle cx="866.99" cy="728.50" r="4.7" fill="#000"/>
<circle cx="876.08" cy="726.00" r="4.7" fill="#000"/>
<circle cx="885.17" cy="728.00" r="4.7" fill="#000"/>
<circle cx="894.26" cy="727.00" r="4.7" fill="#000"/>
<circle cx="903.35" cy="728.00" r="4.7" fill="#000"/>
<circle cx="912.44" cy="725.00" r="4.7" fill="#000"/>
<circle cx="921.53" cy="725.50" r="4.7" fill="#000"/>
<circle cx="930.62" cy="723.50" r="4.7" fill="#000"/>
<circle cx="939.71" cy="727.50" r="4.7" fill="#000"/>
<circle cx="948.80" cy="728.50" r="4.7" fill="#000"/>
<circle cx="957.89" cy="728.50" r="4.7" fill="#000"/>
<circle cx="966.98" cy="725.50" r="4.7" fill="#000"/>
<circle cx="976.07" cy="726.00" r="4.7" fill="#000"/>
<circle cx="985.16" cy="725.50" r="4.7" fill="#000"/>
<rect x="261.4" y="881.6" width="571.4" height="47.6" rx="13.5" ry="13.5" fill="#fff" stroke="#000" stroke-width="2.1"/>
<path d="M366.5,893.3 L389.3,915.5 M389.3,893.3 L366.5,915.5" stroke="#000" stroke-width="2.9" fill="none"/>
<text x="399.0" y="909.0" font-family="'Liberation Sans', sans-serif" font-size="17.3" text-anchor="start" fill="#111" textLength="117" lengthAdjust="spacingAndGlyphs">Direct pathway</text>
<rect x="602.4" y="891.4" width="24.2" height="23.2" fill="#fff" stroke="#000" stroke-width="2"/>
<text x="636.0" y="910.0" font-family="'Liberation Sans', sans-serif" font-size="17.6" text-anchor="start" fill="#111" textLength="126.8" lengthAdjust="spacingAndGlyphs">Indirect pathway</text>
</svg>
</body></html>
